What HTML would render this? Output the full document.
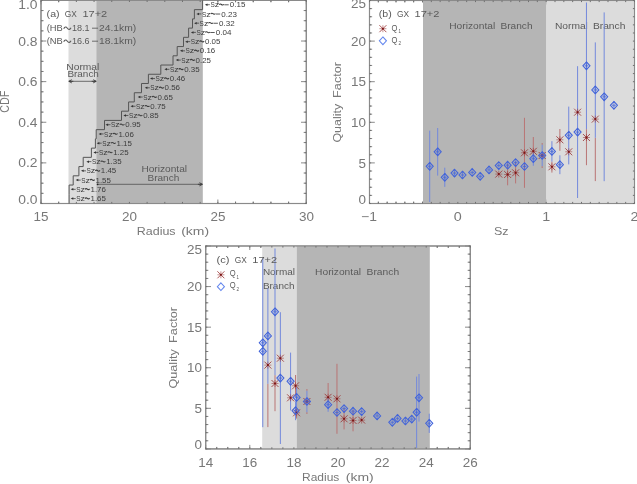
<!DOCTYPE html><html><head><meta charset="utf-8"><style>html,body{margin:0;padding:0;background:#fff;width:637px;height:484px;overflow:hidden}svg{display:block;will-change:transform;filter:blur(0.3px)}text{font-family:"Liberation Sans", sans-serif}</style></head><body>
<svg width="637" height="484" viewBox="0 0 637 484">
<defs>
<clipPath id="ca"><rect x="41" y="0.4" width="265.3" height="203.1"/></clipPath>
<clipPath id="cb"><rect x="369.5" y="0.5" width="265" height="203"/></clipPath>
<clipPath id="cc"><rect x="205.7" y="246" width="264.6" height="202.9"/></clipPath>
<marker id="ah" viewBox="0 0 6 6" refX="5.5" refY="3" markerWidth="4" markerHeight="4" orient="auto-start-reverse"><path d="M0 0.4L6 3L0 5.6Z" fill="#333"/></marker>
</defs>
<rect width="637" height="484" fill="#fff"/>
<rect x="41" y="0.4" width="265.3" height="203.1" fill="none" stroke="#8a8a8a" stroke-width="1.1"/>
<line x1="41" y1="203.5" x2="41" y2="199.5" stroke="#8a8a8a" stroke-width="1"/>
<line x1="41" y1="0.4" x2="41" y2="4.4" stroke="#8a8a8a" stroke-width="1"/>
<line x1="58.69" y1="203.5" x2="58.69" y2="201.5" stroke="#8a8a8a" stroke-width="1"/>
<line x1="58.69" y1="0.4" x2="58.69" y2="2.4" stroke="#8a8a8a" stroke-width="1"/>
<line x1="76.37" y1="203.5" x2="76.37" y2="201.5" stroke="#8a8a8a" stroke-width="1"/>
<line x1="76.37" y1="0.4" x2="76.37" y2="2.4" stroke="#8a8a8a" stroke-width="1"/>
<line x1="94.06" y1="203.5" x2="94.06" y2="201.5" stroke="#8a8a8a" stroke-width="1"/>
<line x1="94.06" y1="0.4" x2="94.06" y2="2.4" stroke="#8a8a8a" stroke-width="1"/>
<line x1="111.75" y1="203.5" x2="111.75" y2="201.5" stroke="#8a8a8a" stroke-width="1"/>
<line x1="111.75" y1="0.4" x2="111.75" y2="2.4" stroke="#8a8a8a" stroke-width="1"/>
<line x1="129.43" y1="203.5" x2="129.43" y2="199.5" stroke="#8a8a8a" stroke-width="1"/>
<line x1="129.43" y1="0.4" x2="129.43" y2="4.4" stroke="#8a8a8a" stroke-width="1"/>
<line x1="147.12" y1="203.5" x2="147.12" y2="201.5" stroke="#8a8a8a" stroke-width="1"/>
<line x1="147.12" y1="0.4" x2="147.12" y2="2.4" stroke="#8a8a8a" stroke-width="1"/>
<line x1="164.81" y1="203.5" x2="164.81" y2="201.5" stroke="#8a8a8a" stroke-width="1"/>
<line x1="164.81" y1="0.4" x2="164.81" y2="2.4" stroke="#8a8a8a" stroke-width="1"/>
<line x1="182.49" y1="203.5" x2="182.49" y2="201.5" stroke="#8a8a8a" stroke-width="1"/>
<line x1="182.49" y1="0.4" x2="182.49" y2="2.4" stroke="#8a8a8a" stroke-width="1"/>
<line x1="200.18" y1="203.5" x2="200.18" y2="201.5" stroke="#8a8a8a" stroke-width="1"/>
<line x1="200.18" y1="0.4" x2="200.18" y2="2.4" stroke="#8a8a8a" stroke-width="1"/>
<line x1="217.87" y1="203.5" x2="217.87" y2="199.5" stroke="#8a8a8a" stroke-width="1"/>
<line x1="217.87" y1="0.4" x2="217.87" y2="4.4" stroke="#8a8a8a" stroke-width="1"/>
<line x1="235.55" y1="203.5" x2="235.55" y2="201.5" stroke="#8a8a8a" stroke-width="1"/>
<line x1="235.55" y1="0.4" x2="235.55" y2="2.4" stroke="#8a8a8a" stroke-width="1"/>
<line x1="253.24" y1="203.5" x2="253.24" y2="201.5" stroke="#8a8a8a" stroke-width="1"/>
<line x1="253.24" y1="0.4" x2="253.24" y2="2.4" stroke="#8a8a8a" stroke-width="1"/>
<line x1="270.93" y1="203.5" x2="270.93" y2="201.5" stroke="#8a8a8a" stroke-width="1"/>
<line x1="270.93" y1="0.4" x2="270.93" y2="2.4" stroke="#8a8a8a" stroke-width="1"/>
<line x1="288.61" y1="203.5" x2="288.61" y2="201.5" stroke="#8a8a8a" stroke-width="1"/>
<line x1="288.61" y1="0.4" x2="288.61" y2="2.4" stroke="#8a8a8a" stroke-width="1"/>
<line x1="306.3" y1="203.5" x2="306.3" y2="199.5" stroke="#8a8a8a" stroke-width="1"/>
<line x1="306.3" y1="0.4" x2="306.3" y2="4.4" stroke="#8a8a8a" stroke-width="1"/>
<line x1="41" y1="203.5" x2="46.3" y2="203.5" stroke="#8a8a8a" stroke-width="1"/>
<line x1="306.3" y1="203.5" x2="301" y2="203.5" stroke="#8a8a8a" stroke-width="1"/>
<line x1="41" y1="193.34" x2="43.65" y2="193.34" stroke="#8a8a8a" stroke-width="1"/>
<line x1="306.3" y1="193.34" x2="303.65" y2="193.34" stroke="#8a8a8a" stroke-width="1"/>
<line x1="41" y1="183.19" x2="43.65" y2="183.19" stroke="#8a8a8a" stroke-width="1"/>
<line x1="306.3" y1="183.19" x2="303.65" y2="183.19" stroke="#8a8a8a" stroke-width="1"/>
<line x1="41" y1="173.03" x2="43.65" y2="173.03" stroke="#8a8a8a" stroke-width="1"/>
<line x1="306.3" y1="173.03" x2="303.65" y2="173.03" stroke="#8a8a8a" stroke-width="1"/>
<line x1="41" y1="162.88" x2="46.3" y2="162.88" stroke="#8a8a8a" stroke-width="1"/>
<line x1="306.3" y1="162.88" x2="301" y2="162.88" stroke="#8a8a8a" stroke-width="1"/>
<line x1="41" y1="152.72" x2="43.65" y2="152.72" stroke="#8a8a8a" stroke-width="1"/>
<line x1="306.3" y1="152.72" x2="303.65" y2="152.72" stroke="#8a8a8a" stroke-width="1"/>
<line x1="41" y1="142.57" x2="43.65" y2="142.57" stroke="#8a8a8a" stroke-width="1"/>
<line x1="306.3" y1="142.57" x2="303.65" y2="142.57" stroke="#8a8a8a" stroke-width="1"/>
<line x1="41" y1="132.42" x2="43.65" y2="132.42" stroke="#8a8a8a" stroke-width="1"/>
<line x1="306.3" y1="132.42" x2="303.65" y2="132.42" stroke="#8a8a8a" stroke-width="1"/>
<line x1="41" y1="122.26" x2="46.3" y2="122.26" stroke="#8a8a8a" stroke-width="1"/>
<line x1="306.3" y1="122.26" x2="301" y2="122.26" stroke="#8a8a8a" stroke-width="1"/>
<line x1="41" y1="112.11" x2="43.65" y2="112.11" stroke="#8a8a8a" stroke-width="1"/>
<line x1="306.3" y1="112.11" x2="303.65" y2="112.11" stroke="#8a8a8a" stroke-width="1"/>
<line x1="41" y1="101.95" x2="43.65" y2="101.95" stroke="#8a8a8a" stroke-width="1"/>
<line x1="306.3" y1="101.95" x2="303.65" y2="101.95" stroke="#8a8a8a" stroke-width="1"/>
<line x1="41" y1="91.8" x2="43.65" y2="91.8" stroke="#8a8a8a" stroke-width="1"/>
<line x1="306.3" y1="91.8" x2="303.65" y2="91.8" stroke="#8a8a8a" stroke-width="1"/>
<line x1="41" y1="81.64" x2="46.3" y2="81.64" stroke="#8a8a8a" stroke-width="1"/>
<line x1="306.3" y1="81.64" x2="301" y2="81.64" stroke="#8a8a8a" stroke-width="1"/>
<line x1="41" y1="71.48" x2="43.65" y2="71.48" stroke="#8a8a8a" stroke-width="1"/>
<line x1="306.3" y1="71.48" x2="303.65" y2="71.48" stroke="#8a8a8a" stroke-width="1"/>
<line x1="41" y1="61.33" x2="43.65" y2="61.33" stroke="#8a8a8a" stroke-width="1"/>
<line x1="306.3" y1="61.33" x2="303.65" y2="61.33" stroke="#8a8a8a" stroke-width="1"/>
<line x1="41" y1="51.17" x2="43.65" y2="51.17" stroke="#8a8a8a" stroke-width="1"/>
<line x1="306.3" y1="51.17" x2="303.65" y2="51.17" stroke="#8a8a8a" stroke-width="1"/>
<line x1="41" y1="41.02" x2="46.3" y2="41.02" stroke="#8a8a8a" stroke-width="1"/>
<line x1="306.3" y1="41.02" x2="301" y2="41.02" stroke="#8a8a8a" stroke-width="1"/>
<line x1="41" y1="30.86" x2="43.65" y2="30.86" stroke="#8a8a8a" stroke-width="1"/>
<line x1="306.3" y1="30.86" x2="303.65" y2="30.86" stroke="#8a8a8a" stroke-width="1"/>
<line x1="41" y1="20.71" x2="43.65" y2="20.71" stroke="#8a8a8a" stroke-width="1"/>
<line x1="306.3" y1="20.71" x2="303.65" y2="20.71" stroke="#8a8a8a" stroke-width="1"/>
<line x1="41" y1="10.55" x2="43.65" y2="10.55" stroke="#8a8a8a" stroke-width="1"/>
<line x1="306.3" y1="10.55" x2="303.65" y2="10.55" stroke="#8a8a8a" stroke-width="1"/>
<line x1="41" y1="0.4" x2="46.3" y2="0.4" stroke="#8a8a8a" stroke-width="1"/>
<line x1="306.3" y1="0.4" x2="301" y2="0.4" stroke="#8a8a8a" stroke-width="1"/>
<rect x="68.5" y="0.4" width="27.8" height="203.1" fill="#dcdcdc"/>
<rect x="96.3" y="0.4" width="106.5" height="203.1" fill="#b5b5b5"/>
<rect x="41" y="0.4" width="265.3" height="203.1" fill="none" stroke="#8a8a8a" stroke-width="1.1"/>
<line x1="41" y1="203.5" x2="41" y2="201.9" stroke="#707070" stroke-width="1"/>
<line x1="41" y1="0.4" x2="41" y2="2" stroke="#707070" stroke-width="1"/>
<line x1="58.69" y1="203.5" x2="58.69" y2="201.9" stroke="#707070" stroke-width="1"/>
<line x1="58.69" y1="0.4" x2="58.69" y2="2" stroke="#707070" stroke-width="1"/>
<line x1="76.37" y1="203.5" x2="76.37" y2="201.9" stroke="#707070" stroke-width="1"/>
<line x1="76.37" y1="0.4" x2="76.37" y2="2" stroke="#707070" stroke-width="1"/>
<line x1="94.06" y1="203.5" x2="94.06" y2="201.9" stroke="#707070" stroke-width="1"/>
<line x1="94.06" y1="0.4" x2="94.06" y2="2" stroke="#707070" stroke-width="1"/>
<line x1="111.75" y1="203.5" x2="111.75" y2="201.9" stroke="#707070" stroke-width="1"/>
<line x1="111.75" y1="0.4" x2="111.75" y2="2" stroke="#707070" stroke-width="1"/>
<line x1="129.43" y1="203.5" x2="129.43" y2="201.9" stroke="#707070" stroke-width="1"/>
<line x1="129.43" y1="0.4" x2="129.43" y2="2" stroke="#707070" stroke-width="1"/>
<line x1="147.12" y1="203.5" x2="147.12" y2="201.9" stroke="#707070" stroke-width="1"/>
<line x1="147.12" y1="0.4" x2="147.12" y2="2" stroke="#707070" stroke-width="1"/>
<line x1="164.81" y1="203.5" x2="164.81" y2="201.9" stroke="#707070" stroke-width="1"/>
<line x1="164.81" y1="0.4" x2="164.81" y2="2" stroke="#707070" stroke-width="1"/>
<line x1="182.49" y1="203.5" x2="182.49" y2="201.9" stroke="#707070" stroke-width="1"/>
<line x1="182.49" y1="0.4" x2="182.49" y2="2" stroke="#707070" stroke-width="1"/>
<line x1="200.18" y1="203.5" x2="200.18" y2="201.9" stroke="#707070" stroke-width="1"/>
<line x1="200.18" y1="0.4" x2="200.18" y2="2" stroke="#707070" stroke-width="1"/>
<line x1="217.87" y1="203.5" x2="217.87" y2="201.9" stroke="#707070" stroke-width="1"/>
<line x1="217.87" y1="0.4" x2="217.87" y2="2" stroke="#707070" stroke-width="1"/>
<line x1="235.55" y1="203.5" x2="235.55" y2="201.9" stroke="#707070" stroke-width="1"/>
<line x1="235.55" y1="0.4" x2="235.55" y2="2" stroke="#707070" stroke-width="1"/>
<line x1="253.24" y1="203.5" x2="253.24" y2="201.9" stroke="#707070" stroke-width="1"/>
<line x1="253.24" y1="0.4" x2="253.24" y2="2" stroke="#707070" stroke-width="1"/>
<line x1="270.93" y1="203.5" x2="270.93" y2="201.9" stroke="#707070" stroke-width="1"/>
<line x1="270.93" y1="0.4" x2="270.93" y2="2" stroke="#707070" stroke-width="1"/>
<line x1="288.61" y1="203.5" x2="288.61" y2="201.9" stroke="#707070" stroke-width="1"/>
<line x1="288.61" y1="0.4" x2="288.61" y2="2" stroke="#707070" stroke-width="1"/>
<line x1="306.3" y1="203.5" x2="306.3" y2="201.9" stroke="#707070" stroke-width="1"/>
<line x1="306.3" y1="0.4" x2="306.3" y2="2" stroke="#707070" stroke-width="1"/>
<line x1="41" y1="203.5" x2="42.6" y2="203.5" stroke="#707070" stroke-width="1"/>
<line x1="306.3" y1="203.5" x2="304.7" y2="203.5" stroke="#707070" stroke-width="1"/>
<line x1="41" y1="193.34" x2="42.6" y2="193.34" stroke="#707070" stroke-width="1"/>
<line x1="306.3" y1="193.34" x2="304.7" y2="193.34" stroke="#707070" stroke-width="1"/>
<line x1="41" y1="183.19" x2="42.6" y2="183.19" stroke="#707070" stroke-width="1"/>
<line x1="306.3" y1="183.19" x2="304.7" y2="183.19" stroke="#707070" stroke-width="1"/>
<line x1="41" y1="173.03" x2="42.6" y2="173.03" stroke="#707070" stroke-width="1"/>
<line x1="306.3" y1="173.03" x2="304.7" y2="173.03" stroke="#707070" stroke-width="1"/>
<line x1="41" y1="162.88" x2="42.6" y2="162.88" stroke="#707070" stroke-width="1"/>
<line x1="306.3" y1="162.88" x2="304.7" y2="162.88" stroke="#707070" stroke-width="1"/>
<line x1="41" y1="152.72" x2="42.6" y2="152.72" stroke="#707070" stroke-width="1"/>
<line x1="306.3" y1="152.72" x2="304.7" y2="152.72" stroke="#707070" stroke-width="1"/>
<line x1="41" y1="142.57" x2="42.6" y2="142.57" stroke="#707070" stroke-width="1"/>
<line x1="306.3" y1="142.57" x2="304.7" y2="142.57" stroke="#707070" stroke-width="1"/>
<line x1="41" y1="132.42" x2="42.6" y2="132.42" stroke="#707070" stroke-width="1"/>
<line x1="306.3" y1="132.42" x2="304.7" y2="132.42" stroke="#707070" stroke-width="1"/>
<line x1="41" y1="122.26" x2="42.6" y2="122.26" stroke="#707070" stroke-width="1"/>
<line x1="306.3" y1="122.26" x2="304.7" y2="122.26" stroke="#707070" stroke-width="1"/>
<line x1="41" y1="112.11" x2="42.6" y2="112.11" stroke="#707070" stroke-width="1"/>
<line x1="306.3" y1="112.11" x2="304.7" y2="112.11" stroke="#707070" stroke-width="1"/>
<line x1="41" y1="101.95" x2="42.6" y2="101.95" stroke="#707070" stroke-width="1"/>
<line x1="306.3" y1="101.95" x2="304.7" y2="101.95" stroke="#707070" stroke-width="1"/>
<line x1="41" y1="91.8" x2="42.6" y2="91.8" stroke="#707070" stroke-width="1"/>
<line x1="306.3" y1="91.8" x2="304.7" y2="91.8" stroke="#707070" stroke-width="1"/>
<line x1="41" y1="81.64" x2="42.6" y2="81.64" stroke="#707070" stroke-width="1"/>
<line x1="306.3" y1="81.64" x2="304.7" y2="81.64" stroke="#707070" stroke-width="1"/>
<line x1="41" y1="71.48" x2="42.6" y2="71.48" stroke="#707070" stroke-width="1"/>
<line x1="306.3" y1="71.48" x2="304.7" y2="71.48" stroke="#707070" stroke-width="1"/>
<line x1="41" y1="61.33" x2="42.6" y2="61.33" stroke="#707070" stroke-width="1"/>
<line x1="306.3" y1="61.33" x2="304.7" y2="61.33" stroke="#707070" stroke-width="1"/>
<line x1="41" y1="51.17" x2="42.6" y2="51.17" stroke="#707070" stroke-width="1"/>
<line x1="306.3" y1="51.17" x2="304.7" y2="51.17" stroke="#707070" stroke-width="1"/>
<line x1="41" y1="41.02" x2="42.6" y2="41.02" stroke="#707070" stroke-width="1"/>
<line x1="306.3" y1="41.02" x2="304.7" y2="41.02" stroke="#707070" stroke-width="1"/>
<line x1="41" y1="30.86" x2="42.6" y2="30.86" stroke="#707070" stroke-width="1"/>
<line x1="306.3" y1="30.86" x2="304.7" y2="30.86" stroke="#707070" stroke-width="1"/>
<line x1="41" y1="20.71" x2="42.6" y2="20.71" stroke="#707070" stroke-width="1"/>
<line x1="306.3" y1="20.71" x2="304.7" y2="20.71" stroke="#707070" stroke-width="1"/>
<line x1="41" y1="10.55" x2="42.6" y2="10.55" stroke="#707070" stroke-width="1"/>
<line x1="306.3" y1="10.55" x2="304.7" y2="10.55" stroke="#707070" stroke-width="1"/>
<line x1="41" y1="0.4" x2="42.6" y2="0.4" stroke="#707070" stroke-width="1"/>
<line x1="306.3" y1="0.4" x2="304.7" y2="0.4" stroke="#707070" stroke-width="1"/>
<path d="M69.1 203.5L69.1 194.27L69.1 194.27L69.1 185.04L73.2 185.04L73.2 175.8L78.9 175.8L78.9 166.57L83.2 166.57L83.2 157.34L91.4 157.34L91.4 148.11L95.4 148.11L95.4 138.88L96.2 138.88L96.2 129.65L104.5 129.65L104.5 120.41L121.5 120.41L121.5 111.18L128.6 111.18L128.6 101.95L134.3 101.95L134.3 92.72L141.5 92.72L141.5 83.49L148.4 83.49L148.4 74.25L160.8 74.25L160.8 65.02L173 65.02L173 55.79L177.2 55.79L177.2 46.56L183.5 46.56L183.5 37.33L188.6 37.33L188.6 28.1L192.5 28.1L192.5 18.86L194.4 18.86L194.4 9.63L202.6 9.63L202.6 0.4" fill="none" stroke="#555" stroke-width="1.0"/>
<line x1="206.9" y1="4.7" x2="209.9" y2="4.7" stroke="#333" stroke-width="0.7"/>
<path d="M204.9 4.7l2.6 -1.25v2.5Z" fill="#333"/>
<text x="210.4" y="7.3" font-size="7.6" fill="#3c3c3c" text-anchor="start" textLength="4.3" lengthAdjust="spacingAndGlyphs">S</text>
<text x="214.7" y="7.3" font-size="7.6" fill="#3c3c3c" text-anchor="start" textLength="4.4" lengthAdjust="spacingAndGlyphs">z</text>
<path d="M219.2 4.74C219.89 3.78 220.81 3.78 221.5 4.5C222.19 5.22 223.11 5.22 223.8 4.26" fill="none" stroke="#3c3c3c" stroke-width="1.1"/>
<line x1="224.3" y1="4.8" x2="228.7" y2="4.8" stroke="#3c3c3c" stroke-width="0.85"/>
<text x="229.8" y="7.3" font-size="7.5" fill="#3c3c3c" text-anchor="start" textLength="15.6" lengthAdjust="spacingAndGlyphs">0.15</text>
<line x1="198.4" y1="13.93" x2="201.4" y2="13.93" stroke="#333" stroke-width="0.7"/>
<path d="M196.4 13.93l2.6 -1.25v2.5Z" fill="#333"/>
<text x="201.9" y="16.53" font-size="7.6" fill="#3c3c3c" text-anchor="start" textLength="4.3" lengthAdjust="spacingAndGlyphs">S</text>
<text x="206.2" y="16.53" font-size="7.6" fill="#3c3c3c" text-anchor="start" textLength="4.4" lengthAdjust="spacingAndGlyphs">z</text>
<path d="M210.7 13.97C211.39 13.01 212.31 13.01 213 13.73C213.69 14.45 214.61 14.45 215.3 13.49" fill="none" stroke="#3c3c3c" stroke-width="1.1"/>
<line x1="215.8" y1="14.03" x2="220.2" y2="14.03" stroke="#3c3c3c" stroke-width="0.85"/>
<text x="221.3" y="16.53" font-size="7.5" fill="#3c3c3c" text-anchor="start" textLength="15.6" lengthAdjust="spacingAndGlyphs">0.23</text>
<line x1="196.1" y1="23.16" x2="199.1" y2="23.16" stroke="#333" stroke-width="0.7"/>
<path d="M194.1 23.16l2.6 -1.25v2.5Z" fill="#333"/>
<text x="199.6" y="25.76" font-size="7.6" fill="#3c3c3c" text-anchor="start" textLength="4.3" lengthAdjust="spacingAndGlyphs">S</text>
<text x="203.9" y="25.76" font-size="7.6" fill="#3c3c3c" text-anchor="start" textLength="4.4" lengthAdjust="spacingAndGlyphs">z</text>
<path d="M208.4 23.2C209.09 22.24 210.01 22.24 210.7 22.96C211.39 23.68 212.31 23.68 213 22.72" fill="none" stroke="#3c3c3c" stroke-width="1.1"/>
<line x1="213.5" y1="23.26" x2="217.9" y2="23.26" stroke="#3c3c3c" stroke-width="0.85"/>
<text x="219" y="25.76" font-size="7.5" fill="#3c3c3c" text-anchor="start" textLength="15.6" lengthAdjust="spacingAndGlyphs">0.32</text>
<line x1="192.9" y1="32.4" x2="195.9" y2="32.4" stroke="#333" stroke-width="0.7"/>
<path d="M190.9 32.4l2.6 -1.25v2.5Z" fill="#333"/>
<text x="196.4" y="35" font-size="7.6" fill="#3c3c3c" text-anchor="start" textLength="4.3" lengthAdjust="spacingAndGlyphs">S</text>
<text x="200.7" y="35" font-size="7.6" fill="#3c3c3c" text-anchor="start" textLength="4.4" lengthAdjust="spacingAndGlyphs">z</text>
<path d="M205.2 32.44C205.89 31.48 206.81 31.48 207.5 32.2C208.19 32.92 209.11 32.92 209.8 31.96" fill="none" stroke="#3c3c3c" stroke-width="1.1"/>
<line x1="210.3" y1="32.5" x2="214.7" y2="32.5" stroke="#3c3c3c" stroke-width="0.85"/>
<text x="215.8" y="35" font-size="7.5" fill="#3c3c3c" text-anchor="start" textLength="15.6" lengthAdjust="spacingAndGlyphs">0.04</text>
<line x1="187.2" y1="41.63" x2="190.2" y2="41.63" stroke="#333" stroke-width="0.7"/>
<path d="M185.2 41.63l2.6 -1.25v2.5Z" fill="#333"/>
<text x="190.7" y="44.23" font-size="7.6" fill="#3c3c3c" text-anchor="start" textLength="4.3" lengthAdjust="spacingAndGlyphs">S</text>
<text x="195" y="44.23" font-size="7.6" fill="#3c3c3c" text-anchor="start" textLength="4.4" lengthAdjust="spacingAndGlyphs">z</text>
<path d="M199.5 41.67C200.19 40.71 201.11 40.71 201.8 41.43C202.49 42.15 203.41 42.15 204.1 41.19" fill="none" stroke="#3c3c3c" stroke-width="1.1"/>
<text x="205" y="44.23" font-size="7.5" fill="#3c3c3c" text-anchor="start" textLength="15.4" lengthAdjust="spacingAndGlyphs">0.05</text>
<line x1="182" y1="50.86" x2="185" y2="50.86" stroke="#333" stroke-width="0.7"/>
<path d="M180 50.86l2.6 -1.25v2.5Z" fill="#333"/>
<text x="185.5" y="53.46" font-size="7.6" fill="#3c3c3c" text-anchor="start" textLength="4.3" lengthAdjust="spacingAndGlyphs">S</text>
<text x="189.8" y="53.46" font-size="7.6" fill="#3c3c3c" text-anchor="start" textLength="4.4" lengthAdjust="spacingAndGlyphs">z</text>
<path d="M194.3 50.9C194.99 49.94 195.91 49.94 196.6 50.66C197.29 51.38 198.21 51.38 198.9 50.42" fill="none" stroke="#3c3c3c" stroke-width="1.1"/>
<text x="199.8" y="53.46" font-size="7.5" fill="#3c3c3c" text-anchor="start" textLength="15.4" lengthAdjust="spacingAndGlyphs">0.16</text>
<line x1="177.8" y1="60.09" x2="180.8" y2="60.09" stroke="#333" stroke-width="0.7"/>
<path d="M175.8 60.09l2.6 -1.25v2.5Z" fill="#333"/>
<text x="181.3" y="62.69" font-size="7.6" fill="#3c3c3c" text-anchor="start" textLength="4.3" lengthAdjust="spacingAndGlyphs">S</text>
<text x="185.6" y="62.69" font-size="7.6" fill="#3c3c3c" text-anchor="start" textLength="4.4" lengthAdjust="spacingAndGlyphs">z</text>
<path d="M190.1 60.13C190.79 59.17 191.71 59.17 192.4 59.89C193.09 60.61 194.01 60.61 194.7 59.65" fill="none" stroke="#3c3c3c" stroke-width="1.1"/>
<text x="195.6" y="62.69" font-size="7.5" fill="#3c3c3c" text-anchor="start" textLength="15.4" lengthAdjust="spacingAndGlyphs">0.25</text>
<line x1="166.4" y1="69.32" x2="169.4" y2="69.32" stroke="#333" stroke-width="0.7"/>
<path d="M164.4 69.32l2.6 -1.25v2.5Z" fill="#333"/>
<text x="169.9" y="71.92" font-size="7.6" fill="#3c3c3c" text-anchor="start" textLength="4.3" lengthAdjust="spacingAndGlyphs">S</text>
<text x="174.2" y="71.92" font-size="7.6" fill="#3c3c3c" text-anchor="start" textLength="4.4" lengthAdjust="spacingAndGlyphs">z</text>
<path d="M178.7 69.36C179.39 68.4 180.31 68.4 181 69.12C181.69 69.84 182.61 69.84 183.3 68.88" fill="none" stroke="#3c3c3c" stroke-width="1.1"/>
<text x="184.2" y="71.92" font-size="7.5" fill="#3c3c3c" text-anchor="start" textLength="15.4" lengthAdjust="spacingAndGlyphs">0.35</text>
<line x1="152" y1="78.55" x2="155" y2="78.55" stroke="#333" stroke-width="0.7"/>
<path d="M150 78.55l2.6 -1.25v2.5Z" fill="#333"/>
<text x="155.5" y="81.15" font-size="7.6" fill="#3c3c3c" text-anchor="start" textLength="4.3" lengthAdjust="spacingAndGlyphs">S</text>
<text x="159.8" y="81.15" font-size="7.6" fill="#3c3c3c" text-anchor="start" textLength="4.4" lengthAdjust="spacingAndGlyphs">z</text>
<path d="M164.3 78.59C164.99 77.63 165.91 77.63 166.6 78.35C167.29 79.07 168.21 79.07 168.9 78.11" fill="none" stroke="#3c3c3c" stroke-width="1.1"/>
<text x="169.8" y="81.15" font-size="7.5" fill="#3c3c3c" text-anchor="start" textLength="15.4" lengthAdjust="spacingAndGlyphs">0.46</text>
<line x1="146.8" y1="87.79" x2="149.8" y2="87.79" stroke="#333" stroke-width="0.7"/>
<path d="M144.8 87.79l2.6 -1.25v2.5Z" fill="#333"/>
<text x="150.3" y="90.39" font-size="7.6" fill="#3c3c3c" text-anchor="start" textLength="4.3" lengthAdjust="spacingAndGlyphs">S</text>
<text x="154.6" y="90.39" font-size="7.6" fill="#3c3c3c" text-anchor="start" textLength="4.4" lengthAdjust="spacingAndGlyphs">z</text>
<path d="M159.1 87.83C159.79 86.87 160.71 86.87 161.4 87.59C162.09 88.31 163.01 88.31 163.7 87.35" fill="none" stroke="#3c3c3c" stroke-width="1.1"/>
<text x="164.6" y="90.39" font-size="7.5" fill="#3c3c3c" text-anchor="start" textLength="15.4" lengthAdjust="spacingAndGlyphs">0.56</text>
<line x1="139.7" y1="97.02" x2="142.7" y2="97.02" stroke="#333" stroke-width="0.7"/>
<path d="M137.7 97.02l2.6 -1.25v2.5Z" fill="#333"/>
<text x="143.2" y="99.62" font-size="7.6" fill="#3c3c3c" text-anchor="start" textLength="4.3" lengthAdjust="spacingAndGlyphs">S</text>
<text x="147.5" y="99.62" font-size="7.6" fill="#3c3c3c" text-anchor="start" textLength="4.4" lengthAdjust="spacingAndGlyphs">z</text>
<path d="M152 97.06C152.69 96.1 153.61 96.1 154.3 96.82C154.99 97.54 155.91 97.54 156.6 96.58" fill="none" stroke="#3c3c3c" stroke-width="1.1"/>
<text x="157.5" y="99.62" font-size="7.5" fill="#3c3c3c" text-anchor="start" textLength="15.4" lengthAdjust="spacingAndGlyphs">0.65</text>
<line x1="132.5" y1="106.25" x2="135.5" y2="106.25" stroke="#333" stroke-width="0.7"/>
<path d="M130.5 106.25l2.6 -1.25v2.5Z" fill="#333"/>
<text x="136" y="108.85" font-size="7.6" fill="#3c3c3c" text-anchor="start" textLength="4.3" lengthAdjust="spacingAndGlyphs">S</text>
<text x="140.3" y="108.85" font-size="7.6" fill="#3c3c3c" text-anchor="start" textLength="4.4" lengthAdjust="spacingAndGlyphs">z</text>
<path d="M144.8 106.29C145.49 105.33 146.41 105.33 147.1 106.05C147.79 106.77 148.71 106.77 149.4 105.81" fill="none" stroke="#3c3c3c" stroke-width="1.1"/>
<text x="150.3" y="108.85" font-size="7.5" fill="#3c3c3c" text-anchor="start" textLength="15.4" lengthAdjust="spacingAndGlyphs">0.75</text>
<line x1="125.4" y1="115.48" x2="128.4" y2="115.48" stroke="#333" stroke-width="0.7"/>
<path d="M123.4 115.48l2.6 -1.25v2.5Z" fill="#333"/>
<text x="128.9" y="118.08" font-size="7.6" fill="#3c3c3c" text-anchor="start" textLength="4.3" lengthAdjust="spacingAndGlyphs">S</text>
<text x="133.2" y="118.08" font-size="7.6" fill="#3c3c3c" text-anchor="start" textLength="4.4" lengthAdjust="spacingAndGlyphs">z</text>
<path d="M137.7 115.52C138.39 114.56 139.31 114.56 140 115.28C140.69 116 141.61 116 142.3 115.04" fill="none" stroke="#3c3c3c" stroke-width="1.1"/>
<text x="143.2" y="118.08" font-size="7.5" fill="#3c3c3c" text-anchor="start" textLength="15.4" lengthAdjust="spacingAndGlyphs">0.85</text>
<line x1="107.5" y1="124.71" x2="110.5" y2="124.71" stroke="#333" stroke-width="0.7"/>
<path d="M105.5 124.71l2.6 -1.25v2.5Z" fill="#333"/>
<text x="111" y="127.31" font-size="7.6" fill="#3c3c3c" text-anchor="start" textLength="4.3" lengthAdjust="spacingAndGlyphs">S</text>
<text x="115.3" y="127.31" font-size="7.6" fill="#3c3c3c" text-anchor="start" textLength="4.4" lengthAdjust="spacingAndGlyphs">z</text>
<path d="M119.8 124.75C120.49 123.79 121.41 123.79 122.1 124.51C122.79 125.23 123.71 125.23 124.4 124.27" fill="none" stroke="#3c3c3c" stroke-width="1.1"/>
<text x="125.3" y="127.31" font-size="7.5" fill="#3c3c3c" text-anchor="start" textLength="15.4" lengthAdjust="spacingAndGlyphs">0.95</text>
<line x1="100.6" y1="133.95" x2="103.6" y2="133.95" stroke="#333" stroke-width="0.7"/>
<path d="M98.6 133.95l2.6 -1.25v2.5Z" fill="#333"/>
<text x="104.1" y="136.55" font-size="7.6" fill="#3c3c3c" text-anchor="start" textLength="4.3" lengthAdjust="spacingAndGlyphs">S</text>
<text x="108.4" y="136.55" font-size="7.6" fill="#3c3c3c" text-anchor="start" textLength="4.4" lengthAdjust="spacingAndGlyphs">z</text>
<path d="M112.9 133.99C113.59 133.03 114.51 133.03 115.2 133.75C115.89 134.47 116.81 134.47 117.5 133.51" fill="none" stroke="#3c3c3c" stroke-width="1.1"/>
<text x="118.4" y="136.55" font-size="7.5" fill="#3c3c3c" text-anchor="start" textLength="15.4" lengthAdjust="spacingAndGlyphs">1.06</text>
<line x1="98.7" y1="143.18" x2="101.7" y2="143.18" stroke="#333" stroke-width="0.7"/>
<path d="M96.7 143.18l2.6 -1.25v2.5Z" fill="#333"/>
<text x="102.2" y="145.78" font-size="7.6" fill="#3c3c3c" text-anchor="start" textLength="4.3" lengthAdjust="spacingAndGlyphs">S</text>
<text x="106.5" y="145.78" font-size="7.6" fill="#3c3c3c" text-anchor="start" textLength="4.4" lengthAdjust="spacingAndGlyphs">z</text>
<path d="M111 143.22C111.69 142.26 112.61 142.26 113.3 142.98C113.99 143.7 114.91 143.7 115.6 142.74" fill="none" stroke="#3c3c3c" stroke-width="1.1"/>
<text x="116.5" y="145.78" font-size="7.5" fill="#3c3c3c" text-anchor="start" textLength="15.4" lengthAdjust="spacingAndGlyphs">1.15</text>
<line x1="95.4" y1="152.41" x2="98.4" y2="152.41" stroke="#333" stroke-width="0.7"/>
<path d="M93.4 152.41l2.6 -1.25v2.5Z" fill="#333"/>
<text x="98.9" y="155.01" font-size="7.6" fill="#3c3c3c" text-anchor="start" textLength="4.3" lengthAdjust="spacingAndGlyphs">S</text>
<text x="103.2" y="155.01" font-size="7.6" fill="#3c3c3c" text-anchor="start" textLength="4.4" lengthAdjust="spacingAndGlyphs">z</text>
<path d="M107.7 152.45C108.39 151.49 109.31 151.49 110 152.21C110.69 152.93 111.61 152.93 112.3 151.97" fill="none" stroke="#3c3c3c" stroke-width="1.1"/>
<text x="113.2" y="155.01" font-size="7.5" fill="#3c3c3c" text-anchor="start" textLength="15.4" lengthAdjust="spacingAndGlyphs">1.25</text>
<line x1="88.4" y1="161.64" x2="91.4" y2="161.64" stroke="#333" stroke-width="0.7"/>
<path d="M86.4 161.64l2.6 -1.25v2.5Z" fill="#333"/>
<text x="91.9" y="164.24" font-size="7.6" fill="#3c3c3c" text-anchor="start" textLength="4.3" lengthAdjust="spacingAndGlyphs">S</text>
<text x="96.2" y="164.24" font-size="7.6" fill="#3c3c3c" text-anchor="start" textLength="4.4" lengthAdjust="spacingAndGlyphs">z</text>
<path d="M100.7 161.68C101.39 160.72 102.31 160.72 103 161.44C103.69 162.16 104.61 162.16 105.3 161.2" fill="none" stroke="#3c3c3c" stroke-width="1.1"/>
<text x="106.2" y="164.24" font-size="7.5" fill="#3c3c3c" text-anchor="start" textLength="15.4" lengthAdjust="spacingAndGlyphs">1.35</text>
<line x1="83" y1="170.87" x2="86" y2="170.87" stroke="#333" stroke-width="0.7"/>
<path d="M81 170.87l2.6 -1.25v2.5Z" fill="#333"/>
<text x="86.5" y="173.47" font-size="7.6" fill="#3c3c3c" text-anchor="start" textLength="4.3" lengthAdjust="spacingAndGlyphs">S</text>
<text x="90.8" y="173.47" font-size="7.6" fill="#3c3c3c" text-anchor="start" textLength="4.4" lengthAdjust="spacingAndGlyphs">z</text>
<path d="M95.3 170.91C95.99 169.95 96.91 169.95 97.6 170.67C98.29 171.39 99.21 171.39 99.9 170.43" fill="none" stroke="#3c3c3c" stroke-width="1.1"/>
<text x="100.8" y="173.47" font-size="7.5" fill="#3c3c3c" text-anchor="start" textLength="15.4" lengthAdjust="spacingAndGlyphs">1.45</text>
<line x1="77.7" y1="180.1" x2="80.7" y2="180.1" stroke="#333" stroke-width="0.7"/>
<path d="M75.7 180.1l2.6 -1.25v2.5Z" fill="#333"/>
<text x="81.2" y="182.7" font-size="7.6" fill="#3c3c3c" text-anchor="start" textLength="4.3" lengthAdjust="spacingAndGlyphs">S</text>
<text x="85.5" y="182.7" font-size="7.6" fill="#3c3c3c" text-anchor="start" textLength="4.4" lengthAdjust="spacingAndGlyphs">z</text>
<path d="M90 180.14C90.69 179.18 91.61 179.18 92.3 179.9C92.99 180.62 93.91 180.62 94.6 179.66" fill="none" stroke="#3c3c3c" stroke-width="1.1"/>
<text x="95.5" y="182.7" font-size="7.5" fill="#3c3c3c" text-anchor="start" textLength="15.4" lengthAdjust="spacingAndGlyphs">1.55</text>
<line x1="72.7" y1="189.34" x2="75.7" y2="189.34" stroke="#333" stroke-width="0.7"/>
<path d="M70.7 189.34l2.6 -1.25v2.5Z" fill="#333"/>
<text x="76.2" y="191.94" font-size="7.6" fill="#3c3c3c" text-anchor="start" textLength="4.3" lengthAdjust="spacingAndGlyphs">S</text>
<text x="80.5" y="191.94" font-size="7.6" fill="#3c3c3c" text-anchor="start" textLength="4.4" lengthAdjust="spacingAndGlyphs">z</text>
<path d="M85 189.38C85.69 188.42 86.61 188.42 87.3 189.14C87.99 189.86 88.91 189.86 89.6 188.9" fill="none" stroke="#3c3c3c" stroke-width="1.1"/>
<text x="90.5" y="191.94" font-size="7.5" fill="#3c3c3c" text-anchor="start" textLength="15.4" lengthAdjust="spacingAndGlyphs">1.76</text>
<line x1="72.7" y1="198.57" x2="75.7" y2="198.57" stroke="#333" stroke-width="0.7"/>
<path d="M70.7 198.57l2.6 -1.25v2.5Z" fill="#333"/>
<text x="76.2" y="201.17" font-size="7.6" fill="#3c3c3c" text-anchor="start" textLength="4.3" lengthAdjust="spacingAndGlyphs">S</text>
<text x="80.5" y="201.17" font-size="7.6" fill="#3c3c3c" text-anchor="start" textLength="4.4" lengthAdjust="spacingAndGlyphs">z</text>
<path d="M85 198.61C85.69 197.65 86.61 197.65 87.3 198.37C87.99 199.09 88.91 199.09 89.6 198.13" fill="none" stroke="#3c3c3c" stroke-width="1.1"/>
<text x="90.5" y="201.17" font-size="7.5" fill="#3c3c3c" text-anchor="start" textLength="15.4" lengthAdjust="spacingAndGlyphs">1.65</text>
<text x="46.6" y="16.8" font-size="8.8" fill="#5a5a5a" text-anchor="start" textLength="13" lengthAdjust="spacingAndGlyphs">(a)</text>
<text x="64.8" y="16.8" font-size="8.8" fill="#5a5a5a" text-anchor="start" textLength="12.1" lengthAdjust="spacingAndGlyphs">GX</text>
<text x="82.4" y="16.8" font-size="8.8" fill="#5a5a5a" text-anchor="start" textLength="24.8" lengthAdjust="spacingAndGlyphs">17+2</text>
<text x="46.7" y="31.3" font-size="8.8" fill="#5a5a5a" text-anchor="start" textLength="16.1" lengthAdjust="spacingAndGlyphs">(HB</text>
<path d="M63.7 28.76C64.8 26.52 66.25 26.52 67.35 28.2C68.45 29.88 69.91 29.88 71 27.64" fill="none" stroke="#5a5a5a" stroke-width="1.1"/>
<text x="71.9" y="31.3" font-size="8.8" fill="#5a5a5a" text-anchor="start" textLength="17.6" lengthAdjust="spacingAndGlyphs">18.1</text>
<line x1="92" y1="28.2" x2="98" y2="28.2" stroke="#5a5a5a" stroke-width="0.85"/>
<text x="99" y="31.3" font-size="8.8" fill="#5a5a5a" text-anchor="start" textLength="37.2" lengthAdjust="spacingAndGlyphs">24.1km)</text>
<text x="46.7" y="44.3" font-size="8.8" fill="#5a5a5a" text-anchor="start" textLength="16.1" lengthAdjust="spacingAndGlyphs">(NB</text>
<path d="M63.7 41.76C64.8 39.52 66.25 39.52 67.35 41.2C68.45 42.88 69.91 42.88 71 40.64" fill="none" stroke="#5a5a5a" stroke-width="1.1"/>
<text x="71.9" y="44.3" font-size="8.8" fill="#5a5a5a" text-anchor="start" textLength="17.6" lengthAdjust="spacingAndGlyphs">16.6</text>
<line x1="92" y1="41.2" x2="98" y2="41.2" stroke="#5a5a5a" stroke-width="0.85"/>
<text x="99" y="44.3" font-size="8.8" fill="#5a5a5a" text-anchor="start" textLength="37.2" lengthAdjust="spacingAndGlyphs">18.1km)</text>
<text x="66.3" y="69.8" font-size="8.4" fill="#5a5a5a" text-anchor="start" textLength="33" lengthAdjust="spacingAndGlyphs">Normal</text>
<text x="67.4" y="77.4" font-size="8.4" fill="#5a5a5a" text-anchor="start" textLength="31.5" lengthAdjust="spacingAndGlyphs">Branch</text>
<line x1="69.3" y1="81.3" x2="95.7" y2="81.3" stroke="#555" stroke-width="0.85"/>
<path d="M71.8 79.7L68.8 81.3L71.8 82.9" fill="none" stroke="#3a3a3a" stroke-width="0.9"/>
<line x1="68.8" y1="81.3" x2="73.3" y2="81.3" stroke="#3a3a3a" stroke-width="0.9"/>
<path d="M93.2 79.7L96.2 81.3L93.2 82.9" fill="none" stroke="#3a3a3a" stroke-width="0.9"/>
<line x1="91.7" y1="81.3" x2="96.2" y2="81.3" stroke="#3a3a3a" stroke-width="0.9"/>
<text x="141.4" y="172.3" font-size="8.4" fill="#5a5a5a" text-anchor="start" textLength="45.7" lengthAdjust="spacingAndGlyphs">Horizontal</text>
<text x="147.5" y="180.5" font-size="8.4" fill="#5a5a5a" text-anchor="start" textLength="31.8" lengthAdjust="spacingAndGlyphs">Branch</text>
<line x1="97.8" y1="184.3" x2="201.9" y2="184.3" stroke="#555" stroke-width="0.85"/>
<path d="M199.4 182.7L202.4 184.3L199.4 185.9" fill="none" stroke="#3a3a3a" stroke-width="0.9"/>
<line x1="197.9" y1="184.3" x2="202.4" y2="184.3" stroke="#3a3a3a" stroke-width="0.9"/>
<circle cx="97.6" cy="184.3" r="0.9" fill="#222"/>
<text x="37.6" y="203.7" font-size="12.4" fill="#787878" text-anchor="end" textLength="19.3" lengthAdjust="spacingAndGlyphs">0.0</text>
<text x="37.6" y="167.48" font-size="12.4" fill="#787878" text-anchor="end" textLength="19.3" lengthAdjust="spacingAndGlyphs">0.2</text>
<text x="37.6" y="126.86" font-size="12.4" fill="#787878" text-anchor="end" textLength="19.3" lengthAdjust="spacingAndGlyphs">0.4</text>
<text x="37.6" y="86.24" font-size="12.4" fill="#787878" text-anchor="end" textLength="19.3" lengthAdjust="spacingAndGlyphs">0.6</text>
<text x="37.6" y="45.62" font-size="12.4" fill="#787878" text-anchor="end" textLength="19.3" lengthAdjust="spacingAndGlyphs">0.8</text>
<text x="37.6" y="8.7" font-size="12.4" fill="#787878" text-anchor="end" textLength="19.3" lengthAdjust="spacingAndGlyphs">1.0</text>
<text x="41.1" y="221" font-size="12.4" fill="#787878" text-anchor="middle" textLength="15" lengthAdjust="spacingAndGlyphs">15</text>
<text x="129.53" y="221" font-size="12.4" fill="#787878" text-anchor="middle" textLength="15" lengthAdjust="spacingAndGlyphs">20</text>
<text x="217.97" y="221" font-size="12.4" fill="#787878" text-anchor="middle" textLength="15" lengthAdjust="spacingAndGlyphs">25</text>
<text x="306.4" y="221" font-size="12.4" fill="#787878" text-anchor="middle" textLength="15" lengthAdjust="spacingAndGlyphs">30</text>
<text x="136.8" y="235.1" font-size="11.8" fill="#787878" text-anchor="start" textLength="38.8" lengthAdjust="spacingAndGlyphs">Radius</text>
<text x="181.2" y="235.1" font-size="11.8" fill="#787878" text-anchor="start" textLength="27.9" lengthAdjust="spacingAndGlyphs">(km)</text>
<text transform="translate(8.5 112.8) rotate(-90)" font-size="12.2" fill="#787878" textLength="22.1" lengthAdjust="spacingAndGlyphs">CDF</text>
<rect x="369.5" y="0.5" width="265" height="203" fill="none" stroke="#8a8a8a" stroke-width="1.1"/>
<line x1="369.5" y1="203.5" x2="369.5" y2="199.5" stroke="#8a8a8a" stroke-width="1"/>
<line x1="369.5" y1="0.5" x2="369.5" y2="4.5" stroke="#8a8a8a" stroke-width="1"/>
<line x1="378.33" y1="203.5" x2="378.33" y2="201.5" stroke="#8a8a8a" stroke-width="1"/>
<line x1="378.33" y1="0.5" x2="378.33" y2="2.5" stroke="#8a8a8a" stroke-width="1"/>
<line x1="387.17" y1="203.5" x2="387.17" y2="201.5" stroke="#8a8a8a" stroke-width="1"/>
<line x1="387.17" y1="0.5" x2="387.17" y2="2.5" stroke="#8a8a8a" stroke-width="1"/>
<line x1="396" y1="203.5" x2="396" y2="201.5" stroke="#8a8a8a" stroke-width="1"/>
<line x1="396" y1="0.5" x2="396" y2="2.5" stroke="#8a8a8a" stroke-width="1"/>
<line x1="404.83" y1="203.5" x2="404.83" y2="201.5" stroke="#8a8a8a" stroke-width="1"/>
<line x1="404.83" y1="0.5" x2="404.83" y2="2.5" stroke="#8a8a8a" stroke-width="1"/>
<line x1="413.67" y1="203.5" x2="413.67" y2="201.5" stroke="#8a8a8a" stroke-width="1"/>
<line x1="413.67" y1="0.5" x2="413.67" y2="2.5" stroke="#8a8a8a" stroke-width="1"/>
<line x1="422.5" y1="203.5" x2="422.5" y2="201.5" stroke="#8a8a8a" stroke-width="1"/>
<line x1="422.5" y1="0.5" x2="422.5" y2="2.5" stroke="#8a8a8a" stroke-width="1"/>
<line x1="431.33" y1="203.5" x2="431.33" y2="201.5" stroke="#8a8a8a" stroke-width="1"/>
<line x1="431.33" y1="0.5" x2="431.33" y2="2.5" stroke="#8a8a8a" stroke-width="1"/>
<line x1="440.17" y1="203.5" x2="440.17" y2="201.5" stroke="#8a8a8a" stroke-width="1"/>
<line x1="440.17" y1="0.5" x2="440.17" y2="2.5" stroke="#8a8a8a" stroke-width="1"/>
<line x1="449" y1="203.5" x2="449" y2="201.5" stroke="#8a8a8a" stroke-width="1"/>
<line x1="449" y1="0.5" x2="449" y2="2.5" stroke="#8a8a8a" stroke-width="1"/>
<line x1="457.83" y1="203.5" x2="457.83" y2="199.5" stroke="#8a8a8a" stroke-width="1"/>
<line x1="457.83" y1="0.5" x2="457.83" y2="4.5" stroke="#8a8a8a" stroke-width="1"/>
<line x1="466.67" y1="203.5" x2="466.67" y2="201.5" stroke="#8a8a8a" stroke-width="1"/>
<line x1="466.67" y1="0.5" x2="466.67" y2="2.5" stroke="#8a8a8a" stroke-width="1"/>
<line x1="475.5" y1="203.5" x2="475.5" y2="201.5" stroke="#8a8a8a" stroke-width="1"/>
<line x1="475.5" y1="0.5" x2="475.5" y2="2.5" stroke="#8a8a8a" stroke-width="1"/>
<line x1="484.33" y1="203.5" x2="484.33" y2="201.5" stroke="#8a8a8a" stroke-width="1"/>
<line x1="484.33" y1="0.5" x2="484.33" y2="2.5" stroke="#8a8a8a" stroke-width="1"/>
<line x1="493.17" y1="203.5" x2="493.17" y2="201.5" stroke="#8a8a8a" stroke-width="1"/>
<line x1="493.17" y1="0.5" x2="493.17" y2="2.5" stroke="#8a8a8a" stroke-width="1"/>
<line x1="502" y1="203.5" x2="502" y2="201.5" stroke="#8a8a8a" stroke-width="1"/>
<line x1="502" y1="0.5" x2="502" y2="2.5" stroke="#8a8a8a" stroke-width="1"/>
<line x1="510.83" y1="203.5" x2="510.83" y2="201.5" stroke="#8a8a8a" stroke-width="1"/>
<line x1="510.83" y1="0.5" x2="510.83" y2="2.5" stroke="#8a8a8a" stroke-width="1"/>
<line x1="519.67" y1="203.5" x2="519.67" y2="201.5" stroke="#8a8a8a" stroke-width="1"/>
<line x1="519.67" y1="0.5" x2="519.67" y2="2.5" stroke="#8a8a8a" stroke-width="1"/>
<line x1="528.5" y1="203.5" x2="528.5" y2="201.5" stroke="#8a8a8a" stroke-width="1"/>
<line x1="528.5" y1="0.5" x2="528.5" y2="2.5" stroke="#8a8a8a" stroke-width="1"/>
<line x1="537.33" y1="203.5" x2="537.33" y2="201.5" stroke="#8a8a8a" stroke-width="1"/>
<line x1="537.33" y1="0.5" x2="537.33" y2="2.5" stroke="#8a8a8a" stroke-width="1"/>
<line x1="546.17" y1="203.5" x2="546.17" y2="199.5" stroke="#8a8a8a" stroke-width="1"/>
<line x1="546.17" y1="0.5" x2="546.17" y2="4.5" stroke="#8a8a8a" stroke-width="1"/>
<line x1="555" y1="203.5" x2="555" y2="201.5" stroke="#8a8a8a" stroke-width="1"/>
<line x1="555" y1="0.5" x2="555" y2="2.5" stroke="#8a8a8a" stroke-width="1"/>
<line x1="563.83" y1="203.5" x2="563.83" y2="201.5" stroke="#8a8a8a" stroke-width="1"/>
<line x1="563.83" y1="0.5" x2="563.83" y2="2.5" stroke="#8a8a8a" stroke-width="1"/>
<line x1="572.67" y1="203.5" x2="572.67" y2="201.5" stroke="#8a8a8a" stroke-width="1"/>
<line x1="572.67" y1="0.5" x2="572.67" y2="2.5" stroke="#8a8a8a" stroke-width="1"/>
<line x1="581.5" y1="203.5" x2="581.5" y2="201.5" stroke="#8a8a8a" stroke-width="1"/>
<line x1="581.5" y1="0.5" x2="581.5" y2="2.5" stroke="#8a8a8a" stroke-width="1"/>
<line x1="590.33" y1="203.5" x2="590.33" y2="201.5" stroke="#8a8a8a" stroke-width="1"/>
<line x1="590.33" y1="0.5" x2="590.33" y2="2.5" stroke="#8a8a8a" stroke-width="1"/>
<line x1="599.17" y1="203.5" x2="599.17" y2="201.5" stroke="#8a8a8a" stroke-width="1"/>
<line x1="599.17" y1="0.5" x2="599.17" y2="2.5" stroke="#8a8a8a" stroke-width="1"/>
<line x1="608" y1="203.5" x2="608" y2="201.5" stroke="#8a8a8a" stroke-width="1"/>
<line x1="608" y1="0.5" x2="608" y2="2.5" stroke="#8a8a8a" stroke-width="1"/>
<line x1="616.83" y1="203.5" x2="616.83" y2="201.5" stroke="#8a8a8a" stroke-width="1"/>
<line x1="616.83" y1="0.5" x2="616.83" y2="2.5" stroke="#8a8a8a" stroke-width="1"/>
<line x1="625.67" y1="203.5" x2="625.67" y2="201.5" stroke="#8a8a8a" stroke-width="1"/>
<line x1="625.67" y1="0.5" x2="625.67" y2="2.5" stroke="#8a8a8a" stroke-width="1"/>
<line x1="634.5" y1="203.5" x2="634.5" y2="199.5" stroke="#8a8a8a" stroke-width="1"/>
<line x1="634.5" y1="0.5" x2="634.5" y2="4.5" stroke="#8a8a8a" stroke-width="1"/>
<line x1="369.5" y1="203.5" x2="374.8" y2="203.5" stroke="#8a8a8a" stroke-width="1"/>
<line x1="634.5" y1="203.5" x2="629.2" y2="203.5" stroke="#8a8a8a" stroke-width="1"/>
<line x1="369.5" y1="195.38" x2="372.15" y2="195.38" stroke="#8a8a8a" stroke-width="1"/>
<line x1="634.5" y1="195.38" x2="631.85" y2="195.38" stroke="#8a8a8a" stroke-width="1"/>
<line x1="369.5" y1="187.26" x2="372.15" y2="187.26" stroke="#8a8a8a" stroke-width="1"/>
<line x1="634.5" y1="187.26" x2="631.85" y2="187.26" stroke="#8a8a8a" stroke-width="1"/>
<line x1="369.5" y1="179.14" x2="372.15" y2="179.14" stroke="#8a8a8a" stroke-width="1"/>
<line x1="634.5" y1="179.14" x2="631.85" y2="179.14" stroke="#8a8a8a" stroke-width="1"/>
<line x1="369.5" y1="171.02" x2="372.15" y2="171.02" stroke="#8a8a8a" stroke-width="1"/>
<line x1="634.5" y1="171.02" x2="631.85" y2="171.02" stroke="#8a8a8a" stroke-width="1"/>
<line x1="369.5" y1="162.9" x2="374.8" y2="162.9" stroke="#8a8a8a" stroke-width="1"/>
<line x1="634.5" y1="162.9" x2="629.2" y2="162.9" stroke="#8a8a8a" stroke-width="1"/>
<line x1="369.5" y1="154.78" x2="372.15" y2="154.78" stroke="#8a8a8a" stroke-width="1"/>
<line x1="634.5" y1="154.78" x2="631.85" y2="154.78" stroke="#8a8a8a" stroke-width="1"/>
<line x1="369.5" y1="146.66" x2="372.15" y2="146.66" stroke="#8a8a8a" stroke-width="1"/>
<line x1="634.5" y1="146.66" x2="631.85" y2="146.66" stroke="#8a8a8a" stroke-width="1"/>
<line x1="369.5" y1="138.54" x2="372.15" y2="138.54" stroke="#8a8a8a" stroke-width="1"/>
<line x1="634.5" y1="138.54" x2="631.85" y2="138.54" stroke="#8a8a8a" stroke-width="1"/>
<line x1="369.5" y1="130.42" x2="372.15" y2="130.42" stroke="#8a8a8a" stroke-width="1"/>
<line x1="634.5" y1="130.42" x2="631.85" y2="130.42" stroke="#8a8a8a" stroke-width="1"/>
<line x1="369.5" y1="122.3" x2="374.8" y2="122.3" stroke="#8a8a8a" stroke-width="1"/>
<line x1="634.5" y1="122.3" x2="629.2" y2="122.3" stroke="#8a8a8a" stroke-width="1"/>
<line x1="369.5" y1="114.18" x2="372.15" y2="114.18" stroke="#8a8a8a" stroke-width="1"/>
<line x1="634.5" y1="114.18" x2="631.85" y2="114.18" stroke="#8a8a8a" stroke-width="1"/>
<line x1="369.5" y1="106.06" x2="372.15" y2="106.06" stroke="#8a8a8a" stroke-width="1"/>
<line x1="634.5" y1="106.06" x2="631.85" y2="106.06" stroke="#8a8a8a" stroke-width="1"/>
<line x1="369.5" y1="97.94" x2="372.15" y2="97.94" stroke="#8a8a8a" stroke-width="1"/>
<line x1="634.5" y1="97.94" x2="631.85" y2="97.94" stroke="#8a8a8a" stroke-width="1"/>
<line x1="369.5" y1="89.82" x2="372.15" y2="89.82" stroke="#8a8a8a" stroke-width="1"/>
<line x1="634.5" y1="89.82" x2="631.85" y2="89.82" stroke="#8a8a8a" stroke-width="1"/>
<line x1="369.5" y1="81.7" x2="374.8" y2="81.7" stroke="#8a8a8a" stroke-width="1"/>
<line x1="634.5" y1="81.7" x2="629.2" y2="81.7" stroke="#8a8a8a" stroke-width="1"/>
<line x1="369.5" y1="73.58" x2="372.15" y2="73.58" stroke="#8a8a8a" stroke-width="1"/>
<line x1="634.5" y1="73.58" x2="631.85" y2="73.58" stroke="#8a8a8a" stroke-width="1"/>
<line x1="369.5" y1="65.46" x2="372.15" y2="65.46" stroke="#8a8a8a" stroke-width="1"/>
<line x1="634.5" y1="65.46" x2="631.85" y2="65.46" stroke="#8a8a8a" stroke-width="1"/>
<line x1="369.5" y1="57.34" x2="372.15" y2="57.34" stroke="#8a8a8a" stroke-width="1"/>
<line x1="634.5" y1="57.34" x2="631.85" y2="57.34" stroke="#8a8a8a" stroke-width="1"/>
<line x1="369.5" y1="49.22" x2="372.15" y2="49.22" stroke="#8a8a8a" stroke-width="1"/>
<line x1="634.5" y1="49.22" x2="631.85" y2="49.22" stroke="#8a8a8a" stroke-width="1"/>
<line x1="369.5" y1="41.1" x2="374.8" y2="41.1" stroke="#8a8a8a" stroke-width="1"/>
<line x1="634.5" y1="41.1" x2="629.2" y2="41.1" stroke="#8a8a8a" stroke-width="1"/>
<line x1="369.5" y1="32.98" x2="372.15" y2="32.98" stroke="#8a8a8a" stroke-width="1"/>
<line x1="634.5" y1="32.98" x2="631.85" y2="32.98" stroke="#8a8a8a" stroke-width="1"/>
<line x1="369.5" y1="24.86" x2="372.15" y2="24.86" stroke="#8a8a8a" stroke-width="1"/>
<line x1="634.5" y1="24.86" x2="631.85" y2="24.86" stroke="#8a8a8a" stroke-width="1"/>
<line x1="369.5" y1="16.74" x2="372.15" y2="16.74" stroke="#8a8a8a" stroke-width="1"/>
<line x1="634.5" y1="16.74" x2="631.85" y2="16.74" stroke="#8a8a8a" stroke-width="1"/>
<line x1="369.5" y1="8.62" x2="372.15" y2="8.62" stroke="#8a8a8a" stroke-width="1"/>
<line x1="634.5" y1="8.62" x2="631.85" y2="8.62" stroke="#8a8a8a" stroke-width="1"/>
<line x1="369.5" y1="0.5" x2="374.8" y2="0.5" stroke="#8a8a8a" stroke-width="1"/>
<line x1="634.5" y1="0.5" x2="629.2" y2="0.5" stroke="#8a8a8a" stroke-width="1"/>
<rect x="423" y="0.5" width="123.5" height="203" fill="#b5b5b5"/>
<rect x="546.5" y="0.5" width="88" height="203" fill="#dcdcdc"/>
<rect x="369.5" y="0.5" width="265" height="203" fill="none" stroke="#8a8a8a" stroke-width="1.1"/>
<line x1="369.5" y1="203.5" x2="369.5" y2="201.9" stroke="#707070" stroke-width="1"/>
<line x1="369.5" y1="0.5" x2="369.5" y2="2.1" stroke="#707070" stroke-width="1"/>
<line x1="378.33" y1="203.5" x2="378.33" y2="201.9" stroke="#707070" stroke-width="1"/>
<line x1="378.33" y1="0.5" x2="378.33" y2="2.1" stroke="#707070" stroke-width="1"/>
<line x1="387.17" y1="203.5" x2="387.17" y2="201.9" stroke="#707070" stroke-width="1"/>
<line x1="387.17" y1="0.5" x2="387.17" y2="2.1" stroke="#707070" stroke-width="1"/>
<line x1="396" y1="203.5" x2="396" y2="201.9" stroke="#707070" stroke-width="1"/>
<line x1="396" y1="0.5" x2="396" y2="2.1" stroke="#707070" stroke-width="1"/>
<line x1="404.83" y1="203.5" x2="404.83" y2="201.9" stroke="#707070" stroke-width="1"/>
<line x1="404.83" y1="0.5" x2="404.83" y2="2.1" stroke="#707070" stroke-width="1"/>
<line x1="413.67" y1="203.5" x2="413.67" y2="201.9" stroke="#707070" stroke-width="1"/>
<line x1="413.67" y1="0.5" x2="413.67" y2="2.1" stroke="#707070" stroke-width="1"/>
<line x1="422.5" y1="203.5" x2="422.5" y2="201.9" stroke="#707070" stroke-width="1"/>
<line x1="422.5" y1="0.5" x2="422.5" y2="2.1" stroke="#707070" stroke-width="1"/>
<line x1="431.33" y1="203.5" x2="431.33" y2="201.9" stroke="#707070" stroke-width="1"/>
<line x1="431.33" y1="0.5" x2="431.33" y2="2.1" stroke="#707070" stroke-width="1"/>
<line x1="440.17" y1="203.5" x2="440.17" y2="201.9" stroke="#707070" stroke-width="1"/>
<line x1="440.17" y1="0.5" x2="440.17" y2="2.1" stroke="#707070" stroke-width="1"/>
<line x1="449" y1="203.5" x2="449" y2="201.9" stroke="#707070" stroke-width="1"/>
<line x1="449" y1="0.5" x2="449" y2="2.1" stroke="#707070" stroke-width="1"/>
<line x1="457.83" y1="203.5" x2="457.83" y2="201.9" stroke="#707070" stroke-width="1"/>
<line x1="457.83" y1="0.5" x2="457.83" y2="2.1" stroke="#707070" stroke-width="1"/>
<line x1="466.67" y1="203.5" x2="466.67" y2="201.9" stroke="#707070" stroke-width="1"/>
<line x1="466.67" y1="0.5" x2="466.67" y2="2.1" stroke="#707070" stroke-width="1"/>
<line x1="475.5" y1="203.5" x2="475.5" y2="201.9" stroke="#707070" stroke-width="1"/>
<line x1="475.5" y1="0.5" x2="475.5" y2="2.1" stroke="#707070" stroke-width="1"/>
<line x1="484.33" y1="203.5" x2="484.33" y2="201.9" stroke="#707070" stroke-width="1"/>
<line x1="484.33" y1="0.5" x2="484.33" y2="2.1" stroke="#707070" stroke-width="1"/>
<line x1="493.17" y1="203.5" x2="493.17" y2="201.9" stroke="#707070" stroke-width="1"/>
<line x1="493.17" y1="0.5" x2="493.17" y2="2.1" stroke="#707070" stroke-width="1"/>
<line x1="502" y1="203.5" x2="502" y2="201.9" stroke="#707070" stroke-width="1"/>
<line x1="502" y1="0.5" x2="502" y2="2.1" stroke="#707070" stroke-width="1"/>
<line x1="510.83" y1="203.5" x2="510.83" y2="201.9" stroke="#707070" stroke-width="1"/>
<line x1="510.83" y1="0.5" x2="510.83" y2="2.1" stroke="#707070" stroke-width="1"/>
<line x1="519.67" y1="203.5" x2="519.67" y2="201.9" stroke="#707070" stroke-width="1"/>
<line x1="519.67" y1="0.5" x2="519.67" y2="2.1" stroke="#707070" stroke-width="1"/>
<line x1="528.5" y1="203.5" x2="528.5" y2="201.9" stroke="#707070" stroke-width="1"/>
<line x1="528.5" y1="0.5" x2="528.5" y2="2.1" stroke="#707070" stroke-width="1"/>
<line x1="537.33" y1="203.5" x2="537.33" y2="201.9" stroke="#707070" stroke-width="1"/>
<line x1="537.33" y1="0.5" x2="537.33" y2="2.1" stroke="#707070" stroke-width="1"/>
<line x1="546.17" y1="203.5" x2="546.17" y2="201.9" stroke="#707070" stroke-width="1"/>
<line x1="546.17" y1="0.5" x2="546.17" y2="2.1" stroke="#707070" stroke-width="1"/>
<line x1="555" y1="203.5" x2="555" y2="201.9" stroke="#707070" stroke-width="1"/>
<line x1="555" y1="0.5" x2="555" y2="2.1" stroke="#707070" stroke-width="1"/>
<line x1="563.83" y1="203.5" x2="563.83" y2="201.9" stroke="#707070" stroke-width="1"/>
<line x1="563.83" y1="0.5" x2="563.83" y2="2.1" stroke="#707070" stroke-width="1"/>
<line x1="572.67" y1="203.5" x2="572.67" y2="201.9" stroke="#707070" stroke-width="1"/>
<line x1="572.67" y1="0.5" x2="572.67" y2="2.1" stroke="#707070" stroke-width="1"/>
<line x1="581.5" y1="203.5" x2="581.5" y2="201.9" stroke="#707070" stroke-width="1"/>
<line x1="581.5" y1="0.5" x2="581.5" y2="2.1" stroke="#707070" stroke-width="1"/>
<line x1="590.33" y1="203.5" x2="590.33" y2="201.9" stroke="#707070" stroke-width="1"/>
<line x1="590.33" y1="0.5" x2="590.33" y2="2.1" stroke="#707070" stroke-width="1"/>
<line x1="599.17" y1="203.5" x2="599.17" y2="201.9" stroke="#707070" stroke-width="1"/>
<line x1="599.17" y1="0.5" x2="599.17" y2="2.1" stroke="#707070" stroke-width="1"/>
<line x1="608" y1="203.5" x2="608" y2="201.9" stroke="#707070" stroke-width="1"/>
<line x1="608" y1="0.5" x2="608" y2="2.1" stroke="#707070" stroke-width="1"/>
<line x1="616.83" y1="203.5" x2="616.83" y2="201.9" stroke="#707070" stroke-width="1"/>
<line x1="616.83" y1="0.5" x2="616.83" y2="2.1" stroke="#707070" stroke-width="1"/>
<line x1="625.67" y1="203.5" x2="625.67" y2="201.9" stroke="#707070" stroke-width="1"/>
<line x1="625.67" y1="0.5" x2="625.67" y2="2.1" stroke="#707070" stroke-width="1"/>
<line x1="634.5" y1="203.5" x2="634.5" y2="201.9" stroke="#707070" stroke-width="1"/>
<line x1="634.5" y1="0.5" x2="634.5" y2="2.1" stroke="#707070" stroke-width="1"/>
<line x1="369.5" y1="203.5" x2="371.1" y2="203.5" stroke="#707070" stroke-width="1"/>
<line x1="634.5" y1="203.5" x2="632.9" y2="203.5" stroke="#707070" stroke-width="1"/>
<line x1="369.5" y1="195.38" x2="371.1" y2="195.38" stroke="#707070" stroke-width="1"/>
<line x1="634.5" y1="195.38" x2="632.9" y2="195.38" stroke="#707070" stroke-width="1"/>
<line x1="369.5" y1="187.26" x2="371.1" y2="187.26" stroke="#707070" stroke-width="1"/>
<line x1="634.5" y1="187.26" x2="632.9" y2="187.26" stroke="#707070" stroke-width="1"/>
<line x1="369.5" y1="179.14" x2="371.1" y2="179.14" stroke="#707070" stroke-width="1"/>
<line x1="634.5" y1="179.14" x2="632.9" y2="179.14" stroke="#707070" stroke-width="1"/>
<line x1="369.5" y1="171.02" x2="371.1" y2="171.02" stroke="#707070" stroke-width="1"/>
<line x1="634.5" y1="171.02" x2="632.9" y2="171.02" stroke="#707070" stroke-width="1"/>
<line x1="369.5" y1="162.9" x2="371.1" y2="162.9" stroke="#707070" stroke-width="1"/>
<line x1="634.5" y1="162.9" x2="632.9" y2="162.9" stroke="#707070" stroke-width="1"/>
<line x1="369.5" y1="154.78" x2="371.1" y2="154.78" stroke="#707070" stroke-width="1"/>
<line x1="634.5" y1="154.78" x2="632.9" y2="154.78" stroke="#707070" stroke-width="1"/>
<line x1="369.5" y1="146.66" x2="371.1" y2="146.66" stroke="#707070" stroke-width="1"/>
<line x1="634.5" y1="146.66" x2="632.9" y2="146.66" stroke="#707070" stroke-width="1"/>
<line x1="369.5" y1="138.54" x2="371.1" y2="138.54" stroke="#707070" stroke-width="1"/>
<line x1="634.5" y1="138.54" x2="632.9" y2="138.54" stroke="#707070" stroke-width="1"/>
<line x1="369.5" y1="130.42" x2="371.1" y2="130.42" stroke="#707070" stroke-width="1"/>
<line x1="634.5" y1="130.42" x2="632.9" y2="130.42" stroke="#707070" stroke-width="1"/>
<line x1="369.5" y1="122.3" x2="371.1" y2="122.3" stroke="#707070" stroke-width="1"/>
<line x1="634.5" y1="122.3" x2="632.9" y2="122.3" stroke="#707070" stroke-width="1"/>
<line x1="369.5" y1="114.18" x2="371.1" y2="114.18" stroke="#707070" stroke-width="1"/>
<line x1="634.5" y1="114.18" x2="632.9" y2="114.18" stroke="#707070" stroke-width="1"/>
<line x1="369.5" y1="106.06" x2="371.1" y2="106.06" stroke="#707070" stroke-width="1"/>
<line x1="634.5" y1="106.06" x2="632.9" y2="106.06" stroke="#707070" stroke-width="1"/>
<line x1="369.5" y1="97.94" x2="371.1" y2="97.94" stroke="#707070" stroke-width="1"/>
<line x1="634.5" y1="97.94" x2="632.9" y2="97.94" stroke="#707070" stroke-width="1"/>
<line x1="369.5" y1="89.82" x2="371.1" y2="89.82" stroke="#707070" stroke-width="1"/>
<line x1="634.5" y1="89.82" x2="632.9" y2="89.82" stroke="#707070" stroke-width="1"/>
<line x1="369.5" y1="81.7" x2="371.1" y2="81.7" stroke="#707070" stroke-width="1"/>
<line x1="634.5" y1="81.7" x2="632.9" y2="81.7" stroke="#707070" stroke-width="1"/>
<line x1="369.5" y1="73.58" x2="371.1" y2="73.58" stroke="#707070" stroke-width="1"/>
<line x1="634.5" y1="73.58" x2="632.9" y2="73.58" stroke="#707070" stroke-width="1"/>
<line x1="369.5" y1="65.46" x2="371.1" y2="65.46" stroke="#707070" stroke-width="1"/>
<line x1="634.5" y1="65.46" x2="632.9" y2="65.46" stroke="#707070" stroke-width="1"/>
<line x1="369.5" y1="57.34" x2="371.1" y2="57.34" stroke="#707070" stroke-width="1"/>
<line x1="634.5" y1="57.34" x2="632.9" y2="57.34" stroke="#707070" stroke-width="1"/>
<line x1="369.5" y1="49.22" x2="371.1" y2="49.22" stroke="#707070" stroke-width="1"/>
<line x1="634.5" y1="49.22" x2="632.9" y2="49.22" stroke="#707070" stroke-width="1"/>
<line x1="369.5" y1="41.1" x2="371.1" y2="41.1" stroke="#707070" stroke-width="1"/>
<line x1="634.5" y1="41.1" x2="632.9" y2="41.1" stroke="#707070" stroke-width="1"/>
<line x1="369.5" y1="32.98" x2="371.1" y2="32.98" stroke="#707070" stroke-width="1"/>
<line x1="634.5" y1="32.98" x2="632.9" y2="32.98" stroke="#707070" stroke-width="1"/>
<line x1="369.5" y1="24.86" x2="371.1" y2="24.86" stroke="#707070" stroke-width="1"/>
<line x1="634.5" y1="24.86" x2="632.9" y2="24.86" stroke="#707070" stroke-width="1"/>
<line x1="369.5" y1="16.74" x2="371.1" y2="16.74" stroke="#707070" stroke-width="1"/>
<line x1="634.5" y1="16.74" x2="632.9" y2="16.74" stroke="#707070" stroke-width="1"/>
<line x1="369.5" y1="8.62" x2="371.1" y2="8.62" stroke="#707070" stroke-width="1"/>
<line x1="634.5" y1="8.62" x2="632.9" y2="8.62" stroke="#707070" stroke-width="1"/>
<line x1="369.5" y1="0.5" x2="371.1" y2="0.5" stroke="#707070" stroke-width="1"/>
<line x1="634.5" y1="0.5" x2="632.9" y2="0.5" stroke="#707070" stroke-width="1"/>
<text x="449.2" y="29.1" font-size="8.8" fill="#5a5a5a" text-anchor="start" textLength="46" lengthAdjust="spacingAndGlyphs">Horizontal</text>
<text x="500.5" y="29.1" font-size="8.8" fill="#5a5a5a" text-anchor="start" textLength="32" lengthAdjust="spacingAndGlyphs">Branch</text>
<text x="554.9" y="28.9" font-size="8.8" fill="#5a5a5a" text-anchor="start" textLength="33" lengthAdjust="spacingAndGlyphs">Normal</text>
<text x="592.9" y="28.9" font-size="8.8" fill="#5a5a5a" text-anchor="start" textLength="32.5" lengthAdjust="spacingAndGlyphs">Branch</text>
<g clip-path="url(#cb)">
<line x1="507.64" y1="163.7" x2="507.64" y2="185.3" stroke="#b97474" stroke-width="1"/>
<line x1="515.61" y1="162.2" x2="515.61" y2="183.4" stroke="#b97474" stroke-width="1"/>
<line x1="524.46" y1="117.8" x2="524.46" y2="187.8" stroke="#b97474" stroke-width="1"/>
<line x1="533.32" y1="137" x2="533.32" y2="151.6" stroke="#b97474" stroke-width="1"/>
<line x1="542.17" y1="143" x2="542.17" y2="144.8" stroke="#b97474" stroke-width="1"/>
<line x1="542.17" y1="166.2" x2="542.17" y2="168" stroke="#b97474" stroke-width="1"/>
<line x1="551.91" y1="161.6" x2="551.91" y2="172.6" stroke="#b97474" stroke-width="1"/>
<line x1="559.88" y1="129" x2="559.88" y2="150.8" stroke="#b97474" stroke-width="1"/>
<line x1="586.45" y1="129.2" x2="586.45" y2="165.2" stroke="#b97474" stroke-width="1"/>
<line x1="595.3" y1="137.8" x2="595.3" y2="181.1" stroke="#b97474" stroke-width="1"/>
<line x1="429.71" y1="130.6" x2="429.71" y2="202" stroke="#7389dc" stroke-width="1"/>
<line x1="437.68" y1="128" x2="437.68" y2="175.6" stroke="#7389dc" stroke-width="1"/>
<line x1="444.77" y1="167.7" x2="444.77" y2="186.9" stroke="#7389dc" stroke-width="1"/>
<line x1="533.32" y1="151.6" x2="533.32" y2="165.8" stroke="#7389dc" stroke-width="1"/>
<line x1="542.17" y1="144.8" x2="542.17" y2="166.2" stroke="#7389dc" stroke-width="1"/>
<line x1="551.91" y1="141.2" x2="551.91" y2="161.6" stroke="#7389dc" stroke-width="1"/>
<line x1="559.88" y1="155.3" x2="559.88" y2="174.2" stroke="#7389dc" stroke-width="1"/>
<line x1="568.74" y1="106.6" x2="568.74" y2="164.4" stroke="#7389dc" stroke-width="1"/>
<line x1="577.59" y1="66.2" x2="577.59" y2="198" stroke="#7389dc" stroke-width="1"/>
<line x1="586.45" y1="2.5" x2="586.45" y2="129.2" stroke="#7389dc" stroke-width="1"/>
<line x1="595.3" y1="42.4" x2="595.3" y2="137.8" stroke="#7389dc" stroke-width="1"/>
<line x1="604.16" y1="12.4" x2="604.16" y2="181.2" stroke="#7389dc" stroke-width="1"/>
<path d="M495.28 170.6L502.28 177.6M495.28 177.6L502.28 170.6" stroke="#9c3838" stroke-width="1.0" opacity="0.85"/>
<path d="M495.28 174.1L502.28 174.1M498.78 170.6L498.78 177.6" stroke="#9c3838" stroke-width="0.85" opacity="0.65"/>
<circle cx="498.78" cy="174.1" r="1.0" fill="#7a1515"/>
<path d="M504.14 171L511.14 178M504.14 178L511.14 171" stroke="#9c3838" stroke-width="1.0" opacity="0.85"/>
<path d="M504.14 174.5L511.14 174.5M507.64 171L507.64 178" stroke="#9c3838" stroke-width="0.85" opacity="0.65"/>
<circle cx="507.64" cy="174.5" r="1.0" fill="#7a1515"/>
<path d="M512.11 169.3L519.11 176.3M512.11 176.3L519.11 169.3" stroke="#9c3838" stroke-width="1.0" opacity="0.85"/>
<path d="M512.11 172.8L519.11 172.8M515.61 169.3L515.61 176.3" stroke="#9c3838" stroke-width="0.85" opacity="0.65"/>
<circle cx="515.61" cy="172.8" r="1.0" fill="#7a1515"/>
<path d="M520.96 149.3L527.96 156.3M520.96 156.3L527.96 149.3" stroke="#9c3838" stroke-width="1.0" opacity="0.85"/>
<path d="M520.96 152.8L527.96 152.8M524.46 149.3L524.46 156.3" stroke="#9c3838" stroke-width="0.85" opacity="0.65"/>
<circle cx="524.46" cy="152.8" r="1.0" fill="#7a1515"/>
<path d="M529.82 147.8L536.82 154.8M529.82 154.8L536.82 147.8" stroke="#9c3838" stroke-width="1.0" opacity="0.85"/>
<path d="M529.82 151.3L536.82 151.3M533.32 147.8L533.32 154.8" stroke="#9c3838" stroke-width="0.85" opacity="0.65"/>
<circle cx="533.32" cy="151.3" r="1.0" fill="#7a1515"/>
<path d="M538.67 152L545.67 159M538.67 159L545.67 152" stroke="#9c3838" stroke-width="1.0" opacity="0.85"/>
<path d="M538.67 155.5L545.67 155.5M542.17 152L542.17 159" stroke="#9c3838" stroke-width="0.85" opacity="0.65"/>
<circle cx="542.17" cy="155.5" r="1.0" fill="#7a1515"/>
<path d="M548.41 163.3L555.41 170.3M548.41 170.3L555.41 163.3" stroke="#9c3838" stroke-width="1.0" opacity="0.85"/>
<path d="M548.41 166.8L555.41 166.8M551.91 163.3L551.91 170.3" stroke="#9c3838" stroke-width="0.85" opacity="0.65"/>
<circle cx="551.91" cy="166.8" r="1.0" fill="#7a1515"/>
<path d="M556.38 136.3L563.38 143.3M556.38 143.3L563.38 136.3" stroke="#9c3838" stroke-width="1.0" opacity="0.85"/>
<path d="M556.38 139.8L563.38 139.8M559.88 136.3L559.88 143.3" stroke="#9c3838" stroke-width="0.85" opacity="0.65"/>
<circle cx="559.88" cy="139.8" r="1.0" fill="#7a1515"/>
<path d="M565.24 148.3L572.24 155.3M565.24 155.3L572.24 148.3" stroke="#9c3838" stroke-width="1.0" opacity="0.85"/>
<path d="M565.24 151.8L572.24 151.8M568.74 148.3L568.74 155.3" stroke="#9c3838" stroke-width="0.85" opacity="0.65"/>
<circle cx="568.74" cy="151.8" r="1.0" fill="#7a1515"/>
<path d="M574.09 108.7L581.09 115.7M574.09 115.7L581.09 108.7" stroke="#9c3838" stroke-width="1.0" opacity="0.85"/>
<path d="M574.09 112.2L581.09 112.2M577.59 108.7L577.59 115.7" stroke="#9c3838" stroke-width="0.85" opacity="0.65"/>
<circle cx="577.59" cy="112.2" r="1.0" fill="#7a1515"/>
<path d="M582.95 134L589.95 141M582.95 141L589.95 134" stroke="#9c3838" stroke-width="1.0" opacity="0.85"/>
<path d="M582.95 137.5L589.95 137.5M586.45 134L586.45 141" stroke="#9c3838" stroke-width="0.85" opacity="0.65"/>
<circle cx="586.45" cy="137.5" r="1.0" fill="#7a1515"/>
<path d="M591.8 115.6L598.8 122.6M591.8 122.6L598.8 115.6" stroke="#9c3838" stroke-width="1.0" opacity="0.85"/>
<path d="M591.8 119.1L598.8 119.1M595.3 115.6L595.3 122.6" stroke="#9c3838" stroke-width="0.85" opacity="0.65"/>
<circle cx="595.3" cy="119.1" r="1.0" fill="#7a1515"/>
<path d="M429.71 162.45L433.26 166.3L429.71 170.15L426.16 166.3Z" fill="none" stroke="#4264da" stroke-width="1.05"/>
<path d="M427.91 166.3h3.6M429.71 164.5v3.6" stroke="#4264da" stroke-width="0.75" opacity="0.95"/>
<circle cx="429.71" cy="166.3" r="1.5" fill="none" stroke="#4264da" stroke-width="0.5" opacity="0.45"/>
<path d="M428.91 163.35h1.6M428.91 169.25h1.6" stroke="#4264da" stroke-width="1.2"/>
<path d="M437.68 147.95L441.23 151.8L437.68 155.65L434.13 151.8Z" fill="none" stroke="#4264da" stroke-width="1.05"/>
<path d="M435.88 151.8h3.6M437.68 150v3.6" stroke="#4264da" stroke-width="0.75" opacity="0.95"/>
<circle cx="437.68" cy="151.8" r="1.5" fill="none" stroke="#4264da" stroke-width="0.5" opacity="0.45"/>
<path d="M436.88 148.85h1.6M436.88 154.75h1.6" stroke="#4264da" stroke-width="1.2"/>
<path d="M444.77 173.45L448.32 177.3L444.77 181.15L441.22 177.3Z" fill="none" stroke="#4264da" stroke-width="1.05"/>
<path d="M442.97 177.3h3.6M444.77 175.5v3.6" stroke="#4264da" stroke-width="0.75" opacity="0.95"/>
<circle cx="444.77" cy="177.3" r="1.5" fill="none" stroke="#4264da" stroke-width="0.5" opacity="0.45"/>
<path d="M443.97 174.35h1.6M443.97 180.25h1.6" stroke="#4264da" stroke-width="1.2"/>
<path d="M454.51 169.25L458.06 173.1L454.51 176.95L450.96 173.1Z" fill="none" stroke="#4264da" stroke-width="1.05"/>
<path d="M452.71 173.1h3.6M454.51 171.3v3.6" stroke="#4264da" stroke-width="0.75" opacity="0.95"/>
<circle cx="454.51" cy="173.1" r="1.5" fill="none" stroke="#4264da" stroke-width="0.5" opacity="0.45"/>
<path d="M453.71 170.15h1.6M453.71 176.05h1.6" stroke="#4264da" stroke-width="1.2"/>
<path d="M462.48 171.15L466.03 175L462.48 178.85L458.93 175Z" fill="none" stroke="#4264da" stroke-width="1.05"/>
<path d="M460.68 175h3.6M462.48 173.2v3.6" stroke="#4264da" stroke-width="0.75" opacity="0.95"/>
<circle cx="462.48" cy="175" r="1.5" fill="none" stroke="#4264da" stroke-width="0.5" opacity="0.45"/>
<path d="M461.68 172.05h1.6M461.68 177.95h1.6" stroke="#4264da" stroke-width="1.2"/>
<path d="M472.22 168.55L475.77 172.4L472.22 176.25L468.67 172.4Z" fill="none" stroke="#4264da" stroke-width="1.05"/>
<path d="M470.42 172.4h3.6M472.22 170.6v3.6" stroke="#4264da" stroke-width="0.75" opacity="0.95"/>
<circle cx="472.22" cy="172.4" r="1.5" fill="none" stroke="#4264da" stroke-width="0.5" opacity="0.45"/>
<path d="M471.42 169.45h1.6M471.42 175.35h1.6" stroke="#4264da" stroke-width="1.2"/>
<path d="M480.19 172.45L483.74 176.3L480.19 180.15L476.64 176.3Z" fill="none" stroke="#4264da" stroke-width="1.05"/>
<path d="M478.39 176.3h3.6M480.19 174.5v3.6" stroke="#4264da" stroke-width="0.75" opacity="0.95"/>
<circle cx="480.19" cy="176.3" r="1.5" fill="none" stroke="#4264da" stroke-width="0.5" opacity="0.45"/>
<path d="M479.39 173.35h1.6M479.39 179.25h1.6" stroke="#4264da" stroke-width="1.2"/>
<path d="M489.04 166.05L492.59 169.9L489.04 173.75L485.49 169.9Z" fill="none" stroke="#4264da" stroke-width="1.05"/>
<path d="M487.24 169.9h3.6M489.04 168.1v3.6" stroke="#4264da" stroke-width="0.75" opacity="0.95"/>
<circle cx="489.04" cy="169.9" r="1.5" fill="none" stroke="#4264da" stroke-width="0.5" opacity="0.45"/>
<path d="M488.24 166.95h1.6M488.24 172.85h1.6" stroke="#4264da" stroke-width="1.2"/>
<path d="M498.78 161.75L502.33 165.6L498.78 169.45L495.23 165.6Z" fill="none" stroke="#4264da" stroke-width="1.05"/>
<path d="M496.98 165.6h3.6M498.78 163.8v3.6" stroke="#4264da" stroke-width="0.75" opacity="0.95"/>
<circle cx="498.78" cy="165.6" r="1.5" fill="none" stroke="#4264da" stroke-width="0.5" opacity="0.45"/>
<path d="M497.98 162.65h1.6M497.98 168.55h1.6" stroke="#4264da" stroke-width="1.2"/>
<path d="M507.64 161.35L511.19 165.2L507.64 169.05L504.09 165.2Z" fill="none" stroke="#4264da" stroke-width="1.05"/>
<path d="M505.84 165.2h3.6M507.64 163.4v3.6" stroke="#4264da" stroke-width="0.75" opacity="0.95"/>
<circle cx="507.64" cy="165.2" r="1.5" fill="none" stroke="#4264da" stroke-width="0.5" opacity="0.45"/>
<path d="M506.84 162.25h1.6M506.84 168.15h1.6" stroke="#4264da" stroke-width="1.2"/>
<path d="M515.61 158.75L519.16 162.6L515.61 166.45L512.06 162.6Z" fill="none" stroke="#4264da" stroke-width="1.05"/>
<path d="M513.81 162.6h3.6M515.61 160.8v3.6" stroke="#4264da" stroke-width="0.75" opacity="0.95"/>
<circle cx="515.61" cy="162.6" r="1.5" fill="none" stroke="#4264da" stroke-width="0.5" opacity="0.45"/>
<path d="M514.81 159.65h1.6M514.81 165.55h1.6" stroke="#4264da" stroke-width="1.2"/>
<path d="M524.46 162.65L528.01 166.5L524.46 170.35L520.91 166.5Z" fill="none" stroke="#4264da" stroke-width="1.05"/>
<path d="M522.66 166.5h3.6M524.46 164.7v3.6" stroke="#4264da" stroke-width="0.75" opacity="0.95"/>
<circle cx="524.46" cy="166.5" r="1.5" fill="none" stroke="#4264da" stroke-width="0.5" opacity="0.45"/>
<path d="M523.66 163.55h1.6M523.66 169.45h1.6" stroke="#4264da" stroke-width="1.2"/>
<path d="M533.32 154.85L536.87 158.7L533.32 162.55L529.77 158.7Z" fill="none" stroke="#4264da" stroke-width="1.05"/>
<path d="M531.52 158.7h3.6M533.32 156.9v3.6" stroke="#4264da" stroke-width="0.75" opacity="0.95"/>
<circle cx="533.32" cy="158.7" r="1.5" fill="none" stroke="#4264da" stroke-width="0.5" opacity="0.45"/>
<path d="M532.52 155.75h1.6M532.52 161.65h1.6" stroke="#4264da" stroke-width="1.2"/>
<path d="M542.17 151.65L545.72 155.5L542.17 159.35L538.62 155.5Z" fill="none" stroke="#4264da" stroke-width="1.05"/>
<path d="M540.37 155.5h3.6M542.17 153.7v3.6" stroke="#4264da" stroke-width="0.75" opacity="0.95"/>
<circle cx="542.17" cy="155.5" r="1.5" fill="none" stroke="#4264da" stroke-width="0.5" opacity="0.45"/>
<path d="M541.37 152.55h1.6M541.37 158.45h1.6" stroke="#4264da" stroke-width="1.2"/>
<path d="M551.91 147.55L555.46 151.4L551.91 155.25L548.36 151.4Z" fill="none" stroke="#4264da" stroke-width="1.05"/>
<path d="M550.11 151.4h3.6M551.91 149.6v3.6" stroke="#4264da" stroke-width="0.75" opacity="0.95"/>
<circle cx="551.91" cy="151.4" r="1.5" fill="none" stroke="#4264da" stroke-width="0.5" opacity="0.45"/>
<path d="M551.11 148.45h1.6M551.11 154.35h1.6" stroke="#4264da" stroke-width="1.2"/>
<path d="M559.88 160.85L563.43 164.7L559.88 168.55L556.33 164.7Z" fill="none" stroke="#4264da" stroke-width="1.05"/>
<path d="M558.08 164.7h3.6M559.88 162.9v3.6" stroke="#4264da" stroke-width="0.75" opacity="0.95"/>
<circle cx="559.88" cy="164.7" r="1.5" fill="none" stroke="#4264da" stroke-width="0.5" opacity="0.45"/>
<path d="M559.08 161.75h1.6M559.08 167.65h1.6" stroke="#4264da" stroke-width="1.2"/>
<path d="M568.74 131.45L572.29 135.3L568.74 139.15L565.19 135.3Z" fill="none" stroke="#4264da" stroke-width="1.05"/>
<path d="M566.94 135.3h3.6M568.74 133.5v3.6" stroke="#4264da" stroke-width="0.75" opacity="0.95"/>
<circle cx="568.74" cy="135.3" r="1.5" fill="none" stroke="#4264da" stroke-width="0.5" opacity="0.45"/>
<path d="M567.94 132.35h1.6M567.94 138.25h1.6" stroke="#4264da" stroke-width="1.2"/>
<path d="M577.59 128.25L581.14 132.1L577.59 135.95L574.04 132.1Z" fill="none" stroke="#4264da" stroke-width="1.05"/>
<path d="M575.79 132.1h3.6M577.59 130.3v3.6" stroke="#4264da" stroke-width="0.75" opacity="0.95"/>
<circle cx="577.59" cy="132.1" r="1.5" fill="none" stroke="#4264da" stroke-width="0.5" opacity="0.45"/>
<path d="M576.79 129.15h1.6M576.79 135.05h1.6" stroke="#4264da" stroke-width="1.2"/>
<path d="M586.45 61.95L590 65.8L586.45 69.65L582.9 65.8Z" fill="none" stroke="#4264da" stroke-width="1.05"/>
<path d="M584.65 65.8h3.6M586.45 64v3.6" stroke="#4264da" stroke-width="0.75" opacity="0.95"/>
<circle cx="586.45" cy="65.8" r="1.5" fill="none" stroke="#4264da" stroke-width="0.5" opacity="0.45"/>
<path d="M585.65 62.85h1.6M585.65 68.75h1.6" stroke="#4264da" stroke-width="1.2"/>
<path d="M595.3 86.05L598.85 89.9L595.3 93.75L591.75 89.9Z" fill="none" stroke="#4264da" stroke-width="1.05"/>
<path d="M593.5 89.9h3.6M595.3 88.1v3.6" stroke="#4264da" stroke-width="0.75" opacity="0.95"/>
<circle cx="595.3" cy="89.9" r="1.5" fill="none" stroke="#4264da" stroke-width="0.5" opacity="0.45"/>
<path d="M594.5 86.95h1.6M594.5 92.85h1.6" stroke="#4264da" stroke-width="1.2"/>
<path d="M604.16 92.95L607.71 96.8L604.16 100.65L600.61 96.8Z" fill="none" stroke="#4264da" stroke-width="1.05"/>
<path d="M602.36 96.8h3.6M604.16 95v3.6" stroke="#4264da" stroke-width="0.75" opacity="0.95"/>
<circle cx="604.16" cy="96.8" r="1.5" fill="none" stroke="#4264da" stroke-width="0.5" opacity="0.45"/>
<path d="M603.36 93.85h1.6M603.36 99.75h1.6" stroke="#4264da" stroke-width="1.2"/>
<path d="M613.9 101.45L617.45 105.3L613.9 109.15L610.35 105.3Z" fill="none" stroke="#4264da" stroke-width="1.05"/>
<path d="M612.1 105.3h3.6M613.9 103.5v3.6" stroke="#4264da" stroke-width="0.75" opacity="0.95"/>
<circle cx="613.9" cy="105.3" r="1.5" fill="none" stroke="#4264da" stroke-width="0.5" opacity="0.45"/>
<path d="M613.1 102.35h1.6M613.1 108.25h1.6" stroke="#4264da" stroke-width="1.2"/>
</g>
<text x="378.8" y="17" font-size="8.8" fill="#5a5a5a" text-anchor="start" textLength="13" lengthAdjust="spacingAndGlyphs">(b)</text>
<text x="397" y="17" font-size="8.8" fill="#5a5a5a" text-anchor="start" textLength="12.1" lengthAdjust="spacingAndGlyphs">GX</text>
<text x="414.6" y="17" font-size="8.8" fill="#5a5a5a" text-anchor="start" textLength="24.8" lengthAdjust="spacingAndGlyphs">17+2</text>
<path d="M379.4 25.2L386.4 32.2M379.4 32.2L386.4 25.2" stroke="#9c3838" stroke-width="1.0" opacity="0.85"/>
<path d="M379.4 28.7L386.4 28.7M382.9 25.2L382.9 32.2" stroke="#9c3838" stroke-width="0.85" opacity="0.65"/>
<circle cx="382.9" cy="28.7" r="1.0" fill="#7a1515"/>
<text x="391.6" y="30.8" font-size="8.8" fill="#5a5a5a" text-anchor="start" textLength="5.9" lengthAdjust="spacingAndGlyphs">Q</text>
<text x="398.4" y="33" font-size="5" fill="#5a5a5a" text-anchor="start" textLength="2.4" lengthAdjust="spacingAndGlyphs">1</text>
<path d="M382.9 36.95L386.45 40.8L382.9 44.65L379.35 40.8Z" fill="none" stroke="#6487ee" stroke-width="1.05"/>
<text x="391.6" y="42.9" font-size="8.8" fill="#5a5a5a" text-anchor="start" textLength="5.9" lengthAdjust="spacingAndGlyphs">Q</text>
<text x="398.4" y="45.1" font-size="5" fill="#5a5a5a" text-anchor="start" textLength="2.6" lengthAdjust="spacingAndGlyphs">2</text>
<text x="365.9" y="203.7" font-size="12.4" fill="#787878" text-anchor="end" textLength="7.5" lengthAdjust="spacingAndGlyphs">0</text>
<text x="365.9" y="167.5" font-size="12.4" fill="#787878" text-anchor="end" textLength="7.5" lengthAdjust="spacingAndGlyphs">5</text>
<text x="365.9" y="126.9" font-size="12.4" fill="#787878" text-anchor="end" textLength="15" lengthAdjust="spacingAndGlyphs">10</text>
<text x="365.9" y="86.3" font-size="12.4" fill="#787878" text-anchor="end" textLength="15" lengthAdjust="spacingAndGlyphs">15</text>
<text x="365.9" y="45.7" font-size="12.4" fill="#787878" text-anchor="end" textLength="15" lengthAdjust="spacingAndGlyphs">20</text>
<text x="365.9" y="8.3" font-size="12.4" fill="#787878" text-anchor="end" textLength="15" lengthAdjust="spacingAndGlyphs">25</text>
<text x="369" y="221" font-size="12.4" fill="#787878" text-anchor="middle" textLength="15.9" lengthAdjust="spacingAndGlyphs">−1</text>
<text x="457.83" y="221" font-size="12.4" fill="#787878" text-anchor="middle" textLength="8" lengthAdjust="spacingAndGlyphs">0</text>
<text x="546.17" y="221" font-size="12.4" fill="#787878" text-anchor="middle" textLength="8" lengthAdjust="spacingAndGlyphs">1</text>
<text x="634.5" y="221" font-size="12.4" fill="#787878" text-anchor="middle" textLength="8" lengthAdjust="spacingAndGlyphs">2</text>
<text x="501.3" y="235.4" font-size="11.8" fill="#787878" text-anchor="middle" textLength="14.6" lengthAdjust="spacingAndGlyphs">Sz</text>
<text transform="translate(340.8 142.6) rotate(-90)" font-size="11.8" fill="#787878" textLength="38.8" lengthAdjust="spacingAndGlyphs">Quality</text>
<text transform="translate(340.8 97.9) rotate(-90)" font-size="11.8" fill="#787878" textLength="36" lengthAdjust="spacingAndGlyphs">Factor</text>
<rect x="205.7" y="246" width="264.6" height="202.9" fill="none" stroke="#8a8a8a" stroke-width="1.1"/>
<line x1="205.7" y1="448.9" x2="205.7" y2="444.9" stroke="#8a8a8a" stroke-width="1"/>
<line x1="205.7" y1="246" x2="205.7" y2="250" stroke="#8a8a8a" stroke-width="1"/>
<line x1="216.72" y1="448.9" x2="216.72" y2="446.9" stroke="#8a8a8a" stroke-width="1"/>
<line x1="216.72" y1="246" x2="216.72" y2="248" stroke="#8a8a8a" stroke-width="1"/>
<line x1="227.75" y1="448.9" x2="227.75" y2="446.9" stroke="#8a8a8a" stroke-width="1"/>
<line x1="227.75" y1="246" x2="227.75" y2="248" stroke="#8a8a8a" stroke-width="1"/>
<line x1="238.77" y1="448.9" x2="238.77" y2="446.9" stroke="#8a8a8a" stroke-width="1"/>
<line x1="238.77" y1="246" x2="238.77" y2="248" stroke="#8a8a8a" stroke-width="1"/>
<line x1="249.8" y1="448.9" x2="249.8" y2="444.9" stroke="#8a8a8a" stroke-width="1"/>
<line x1="249.8" y1="246" x2="249.8" y2="250" stroke="#8a8a8a" stroke-width="1"/>
<line x1="260.82" y1="448.9" x2="260.82" y2="446.9" stroke="#8a8a8a" stroke-width="1"/>
<line x1="260.82" y1="246" x2="260.82" y2="248" stroke="#8a8a8a" stroke-width="1"/>
<line x1="271.85" y1="448.9" x2="271.85" y2="446.9" stroke="#8a8a8a" stroke-width="1"/>
<line x1="271.85" y1="246" x2="271.85" y2="248" stroke="#8a8a8a" stroke-width="1"/>
<line x1="282.88" y1="448.9" x2="282.88" y2="446.9" stroke="#8a8a8a" stroke-width="1"/>
<line x1="282.88" y1="246" x2="282.88" y2="248" stroke="#8a8a8a" stroke-width="1"/>
<line x1="293.9" y1="448.9" x2="293.9" y2="444.9" stroke="#8a8a8a" stroke-width="1"/>
<line x1="293.9" y1="246" x2="293.9" y2="250" stroke="#8a8a8a" stroke-width="1"/>
<line x1="304.93" y1="448.9" x2="304.93" y2="446.9" stroke="#8a8a8a" stroke-width="1"/>
<line x1="304.93" y1="246" x2="304.93" y2="248" stroke="#8a8a8a" stroke-width="1"/>
<line x1="315.95" y1="448.9" x2="315.95" y2="446.9" stroke="#8a8a8a" stroke-width="1"/>
<line x1="315.95" y1="246" x2="315.95" y2="248" stroke="#8a8a8a" stroke-width="1"/>
<line x1="326.98" y1="448.9" x2="326.98" y2="446.9" stroke="#8a8a8a" stroke-width="1"/>
<line x1="326.98" y1="246" x2="326.98" y2="248" stroke="#8a8a8a" stroke-width="1"/>
<line x1="338" y1="448.9" x2="338" y2="444.9" stroke="#8a8a8a" stroke-width="1"/>
<line x1="338" y1="246" x2="338" y2="250" stroke="#8a8a8a" stroke-width="1"/>
<line x1="349.02" y1="448.9" x2="349.02" y2="446.9" stroke="#8a8a8a" stroke-width="1"/>
<line x1="349.02" y1="246" x2="349.02" y2="248" stroke="#8a8a8a" stroke-width="1"/>
<line x1="360.05" y1="448.9" x2="360.05" y2="446.9" stroke="#8a8a8a" stroke-width="1"/>
<line x1="360.05" y1="246" x2="360.05" y2="248" stroke="#8a8a8a" stroke-width="1"/>
<line x1="371.07" y1="448.9" x2="371.07" y2="446.9" stroke="#8a8a8a" stroke-width="1"/>
<line x1="371.07" y1="246" x2="371.07" y2="248" stroke="#8a8a8a" stroke-width="1"/>
<line x1="382.1" y1="448.9" x2="382.1" y2="444.9" stroke="#8a8a8a" stroke-width="1"/>
<line x1="382.1" y1="246" x2="382.1" y2="250" stroke="#8a8a8a" stroke-width="1"/>
<line x1="393.12" y1="448.9" x2="393.12" y2="446.9" stroke="#8a8a8a" stroke-width="1"/>
<line x1="393.12" y1="246" x2="393.12" y2="248" stroke="#8a8a8a" stroke-width="1"/>
<line x1="404.15" y1="448.9" x2="404.15" y2="446.9" stroke="#8a8a8a" stroke-width="1"/>
<line x1="404.15" y1="246" x2="404.15" y2="248" stroke="#8a8a8a" stroke-width="1"/>
<line x1="415.17" y1="448.9" x2="415.17" y2="446.9" stroke="#8a8a8a" stroke-width="1"/>
<line x1="415.17" y1="246" x2="415.17" y2="248" stroke="#8a8a8a" stroke-width="1"/>
<line x1="426.2" y1="448.9" x2="426.2" y2="444.9" stroke="#8a8a8a" stroke-width="1"/>
<line x1="426.2" y1="246" x2="426.2" y2="250" stroke="#8a8a8a" stroke-width="1"/>
<line x1="437.23" y1="448.9" x2="437.23" y2="446.9" stroke="#8a8a8a" stroke-width="1"/>
<line x1="437.23" y1="246" x2="437.23" y2="248" stroke="#8a8a8a" stroke-width="1"/>
<line x1="448.25" y1="448.9" x2="448.25" y2="446.9" stroke="#8a8a8a" stroke-width="1"/>
<line x1="448.25" y1="246" x2="448.25" y2="248" stroke="#8a8a8a" stroke-width="1"/>
<line x1="459.28" y1="448.9" x2="459.28" y2="446.9" stroke="#8a8a8a" stroke-width="1"/>
<line x1="459.28" y1="246" x2="459.28" y2="248" stroke="#8a8a8a" stroke-width="1"/>
<line x1="470.3" y1="448.9" x2="470.3" y2="444.9" stroke="#8a8a8a" stroke-width="1"/>
<line x1="470.3" y1="246" x2="470.3" y2="250" stroke="#8a8a8a" stroke-width="1"/>
<line x1="205.7" y1="448.9" x2="211" y2="448.9" stroke="#8a8a8a" stroke-width="1"/>
<line x1="470.3" y1="448.9" x2="465" y2="448.9" stroke="#8a8a8a" stroke-width="1"/>
<line x1="205.7" y1="440.78" x2="208.35" y2="440.78" stroke="#8a8a8a" stroke-width="1"/>
<line x1="470.3" y1="440.78" x2="467.65" y2="440.78" stroke="#8a8a8a" stroke-width="1"/>
<line x1="205.7" y1="432.67" x2="208.35" y2="432.67" stroke="#8a8a8a" stroke-width="1"/>
<line x1="470.3" y1="432.67" x2="467.65" y2="432.67" stroke="#8a8a8a" stroke-width="1"/>
<line x1="205.7" y1="424.55" x2="208.35" y2="424.55" stroke="#8a8a8a" stroke-width="1"/>
<line x1="470.3" y1="424.55" x2="467.65" y2="424.55" stroke="#8a8a8a" stroke-width="1"/>
<line x1="205.7" y1="416.44" x2="208.35" y2="416.44" stroke="#8a8a8a" stroke-width="1"/>
<line x1="470.3" y1="416.44" x2="467.65" y2="416.44" stroke="#8a8a8a" stroke-width="1"/>
<line x1="205.7" y1="408.32" x2="211" y2="408.32" stroke="#8a8a8a" stroke-width="1"/>
<line x1="470.3" y1="408.32" x2="465" y2="408.32" stroke="#8a8a8a" stroke-width="1"/>
<line x1="205.7" y1="400.2" x2="208.35" y2="400.2" stroke="#8a8a8a" stroke-width="1"/>
<line x1="470.3" y1="400.2" x2="467.65" y2="400.2" stroke="#8a8a8a" stroke-width="1"/>
<line x1="205.7" y1="392.09" x2="208.35" y2="392.09" stroke="#8a8a8a" stroke-width="1"/>
<line x1="470.3" y1="392.09" x2="467.65" y2="392.09" stroke="#8a8a8a" stroke-width="1"/>
<line x1="205.7" y1="383.97" x2="208.35" y2="383.97" stroke="#8a8a8a" stroke-width="1"/>
<line x1="470.3" y1="383.97" x2="467.65" y2="383.97" stroke="#8a8a8a" stroke-width="1"/>
<line x1="205.7" y1="375.86" x2="208.35" y2="375.86" stroke="#8a8a8a" stroke-width="1"/>
<line x1="470.3" y1="375.86" x2="467.65" y2="375.86" stroke="#8a8a8a" stroke-width="1"/>
<line x1="205.7" y1="367.74" x2="211" y2="367.74" stroke="#8a8a8a" stroke-width="1"/>
<line x1="470.3" y1="367.74" x2="465" y2="367.74" stroke="#8a8a8a" stroke-width="1"/>
<line x1="205.7" y1="359.62" x2="208.35" y2="359.62" stroke="#8a8a8a" stroke-width="1"/>
<line x1="470.3" y1="359.62" x2="467.65" y2="359.62" stroke="#8a8a8a" stroke-width="1"/>
<line x1="205.7" y1="351.51" x2="208.35" y2="351.51" stroke="#8a8a8a" stroke-width="1"/>
<line x1="470.3" y1="351.51" x2="467.65" y2="351.51" stroke="#8a8a8a" stroke-width="1"/>
<line x1="205.7" y1="343.39" x2="208.35" y2="343.39" stroke="#8a8a8a" stroke-width="1"/>
<line x1="470.3" y1="343.39" x2="467.65" y2="343.39" stroke="#8a8a8a" stroke-width="1"/>
<line x1="205.7" y1="335.28" x2="208.35" y2="335.28" stroke="#8a8a8a" stroke-width="1"/>
<line x1="470.3" y1="335.28" x2="467.65" y2="335.28" stroke="#8a8a8a" stroke-width="1"/>
<line x1="205.7" y1="327.16" x2="211" y2="327.16" stroke="#8a8a8a" stroke-width="1"/>
<line x1="470.3" y1="327.16" x2="465" y2="327.16" stroke="#8a8a8a" stroke-width="1"/>
<line x1="205.7" y1="319.04" x2="208.35" y2="319.04" stroke="#8a8a8a" stroke-width="1"/>
<line x1="470.3" y1="319.04" x2="467.65" y2="319.04" stroke="#8a8a8a" stroke-width="1"/>
<line x1="205.7" y1="310.93" x2="208.35" y2="310.93" stroke="#8a8a8a" stroke-width="1"/>
<line x1="470.3" y1="310.93" x2="467.65" y2="310.93" stroke="#8a8a8a" stroke-width="1"/>
<line x1="205.7" y1="302.81" x2="208.35" y2="302.81" stroke="#8a8a8a" stroke-width="1"/>
<line x1="470.3" y1="302.81" x2="467.65" y2="302.81" stroke="#8a8a8a" stroke-width="1"/>
<line x1="205.7" y1="294.7" x2="208.35" y2="294.7" stroke="#8a8a8a" stroke-width="1"/>
<line x1="470.3" y1="294.7" x2="467.65" y2="294.7" stroke="#8a8a8a" stroke-width="1"/>
<line x1="205.7" y1="286.58" x2="211" y2="286.58" stroke="#8a8a8a" stroke-width="1"/>
<line x1="470.3" y1="286.58" x2="465" y2="286.58" stroke="#8a8a8a" stroke-width="1"/>
<line x1="205.7" y1="278.46" x2="208.35" y2="278.46" stroke="#8a8a8a" stroke-width="1"/>
<line x1="470.3" y1="278.46" x2="467.65" y2="278.46" stroke="#8a8a8a" stroke-width="1"/>
<line x1="205.7" y1="270.35" x2="208.35" y2="270.35" stroke="#8a8a8a" stroke-width="1"/>
<line x1="470.3" y1="270.35" x2="467.65" y2="270.35" stroke="#8a8a8a" stroke-width="1"/>
<line x1="205.7" y1="262.23" x2="208.35" y2="262.23" stroke="#8a8a8a" stroke-width="1"/>
<line x1="470.3" y1="262.23" x2="467.65" y2="262.23" stroke="#8a8a8a" stroke-width="1"/>
<line x1="205.7" y1="254.12" x2="208.35" y2="254.12" stroke="#8a8a8a" stroke-width="1"/>
<line x1="470.3" y1="254.12" x2="467.65" y2="254.12" stroke="#8a8a8a" stroke-width="1"/>
<line x1="205.7" y1="246" x2="211" y2="246" stroke="#8a8a8a" stroke-width="1"/>
<line x1="470.3" y1="246" x2="465" y2="246" stroke="#8a8a8a" stroke-width="1"/>
<rect x="262.2" y="246" width="34.5" height="202.9" fill="#dcdcdc"/>
<rect x="296.7" y="246" width="133.1" height="202.9" fill="#b5b5b5"/>
<rect x="205.7" y="246" width="264.6" height="202.9" fill="none" stroke="#8a8a8a" stroke-width="1.1"/>
<line x1="205.7" y1="448.9" x2="205.7" y2="447.3" stroke="#707070" stroke-width="1"/>
<line x1="205.7" y1="246" x2="205.7" y2="247.6" stroke="#707070" stroke-width="1"/>
<line x1="216.72" y1="448.9" x2="216.72" y2="447.3" stroke="#707070" stroke-width="1"/>
<line x1="216.72" y1="246" x2="216.72" y2="247.6" stroke="#707070" stroke-width="1"/>
<line x1="227.75" y1="448.9" x2="227.75" y2="447.3" stroke="#707070" stroke-width="1"/>
<line x1="227.75" y1="246" x2="227.75" y2="247.6" stroke="#707070" stroke-width="1"/>
<line x1="238.77" y1="448.9" x2="238.77" y2="447.3" stroke="#707070" stroke-width="1"/>
<line x1="238.77" y1="246" x2="238.77" y2="247.6" stroke="#707070" stroke-width="1"/>
<line x1="249.8" y1="448.9" x2="249.8" y2="447.3" stroke="#707070" stroke-width="1"/>
<line x1="249.8" y1="246" x2="249.8" y2="247.6" stroke="#707070" stroke-width="1"/>
<line x1="260.82" y1="448.9" x2="260.82" y2="447.3" stroke="#707070" stroke-width="1"/>
<line x1="260.82" y1="246" x2="260.82" y2="247.6" stroke="#707070" stroke-width="1"/>
<line x1="271.85" y1="448.9" x2="271.85" y2="447.3" stroke="#707070" stroke-width="1"/>
<line x1="271.85" y1="246" x2="271.85" y2="247.6" stroke="#707070" stroke-width="1"/>
<line x1="282.88" y1="448.9" x2="282.88" y2="447.3" stroke="#707070" stroke-width="1"/>
<line x1="282.88" y1="246" x2="282.88" y2="247.6" stroke="#707070" stroke-width="1"/>
<line x1="293.9" y1="448.9" x2="293.9" y2="447.3" stroke="#707070" stroke-width="1"/>
<line x1="293.9" y1="246" x2="293.9" y2="247.6" stroke="#707070" stroke-width="1"/>
<line x1="304.93" y1="448.9" x2="304.93" y2="447.3" stroke="#707070" stroke-width="1"/>
<line x1="304.93" y1="246" x2="304.93" y2="247.6" stroke="#707070" stroke-width="1"/>
<line x1="315.95" y1="448.9" x2="315.95" y2="447.3" stroke="#707070" stroke-width="1"/>
<line x1="315.95" y1="246" x2="315.95" y2="247.6" stroke="#707070" stroke-width="1"/>
<line x1="326.98" y1="448.9" x2="326.98" y2="447.3" stroke="#707070" stroke-width="1"/>
<line x1="326.98" y1="246" x2="326.98" y2="247.6" stroke="#707070" stroke-width="1"/>
<line x1="338" y1="448.9" x2="338" y2="447.3" stroke="#707070" stroke-width="1"/>
<line x1="338" y1="246" x2="338" y2="247.6" stroke="#707070" stroke-width="1"/>
<line x1="349.02" y1="448.9" x2="349.02" y2="447.3" stroke="#707070" stroke-width="1"/>
<line x1="349.02" y1="246" x2="349.02" y2="247.6" stroke="#707070" stroke-width="1"/>
<line x1="360.05" y1="448.9" x2="360.05" y2="447.3" stroke="#707070" stroke-width="1"/>
<line x1="360.05" y1="246" x2="360.05" y2="247.6" stroke="#707070" stroke-width="1"/>
<line x1="371.07" y1="448.9" x2="371.07" y2="447.3" stroke="#707070" stroke-width="1"/>
<line x1="371.07" y1="246" x2="371.07" y2="247.6" stroke="#707070" stroke-width="1"/>
<line x1="382.1" y1="448.9" x2="382.1" y2="447.3" stroke="#707070" stroke-width="1"/>
<line x1="382.1" y1="246" x2="382.1" y2="247.6" stroke="#707070" stroke-width="1"/>
<line x1="393.12" y1="448.9" x2="393.12" y2="447.3" stroke="#707070" stroke-width="1"/>
<line x1="393.12" y1="246" x2="393.12" y2="247.6" stroke="#707070" stroke-width="1"/>
<line x1="404.15" y1="448.9" x2="404.15" y2="447.3" stroke="#707070" stroke-width="1"/>
<line x1="404.15" y1="246" x2="404.15" y2="247.6" stroke="#707070" stroke-width="1"/>
<line x1="415.17" y1="448.9" x2="415.17" y2="447.3" stroke="#707070" stroke-width="1"/>
<line x1="415.17" y1="246" x2="415.17" y2="247.6" stroke="#707070" stroke-width="1"/>
<line x1="426.2" y1="448.9" x2="426.2" y2="447.3" stroke="#707070" stroke-width="1"/>
<line x1="426.2" y1="246" x2="426.2" y2="247.6" stroke="#707070" stroke-width="1"/>
<line x1="437.23" y1="448.9" x2="437.23" y2="447.3" stroke="#707070" stroke-width="1"/>
<line x1="437.23" y1="246" x2="437.23" y2="247.6" stroke="#707070" stroke-width="1"/>
<line x1="448.25" y1="448.9" x2="448.25" y2="447.3" stroke="#707070" stroke-width="1"/>
<line x1="448.25" y1="246" x2="448.25" y2="247.6" stroke="#707070" stroke-width="1"/>
<line x1="459.28" y1="448.9" x2="459.28" y2="447.3" stroke="#707070" stroke-width="1"/>
<line x1="459.28" y1="246" x2="459.28" y2="247.6" stroke="#707070" stroke-width="1"/>
<line x1="470.3" y1="448.9" x2="470.3" y2="447.3" stroke="#707070" stroke-width="1"/>
<line x1="470.3" y1="246" x2="470.3" y2="247.6" stroke="#707070" stroke-width="1"/>
<line x1="205.7" y1="448.9" x2="207.3" y2="448.9" stroke="#707070" stroke-width="1"/>
<line x1="470.3" y1="448.9" x2="468.7" y2="448.9" stroke="#707070" stroke-width="1"/>
<line x1="205.7" y1="440.78" x2="207.3" y2="440.78" stroke="#707070" stroke-width="1"/>
<line x1="470.3" y1="440.78" x2="468.7" y2="440.78" stroke="#707070" stroke-width="1"/>
<line x1="205.7" y1="432.67" x2="207.3" y2="432.67" stroke="#707070" stroke-width="1"/>
<line x1="470.3" y1="432.67" x2="468.7" y2="432.67" stroke="#707070" stroke-width="1"/>
<line x1="205.7" y1="424.55" x2="207.3" y2="424.55" stroke="#707070" stroke-width="1"/>
<line x1="470.3" y1="424.55" x2="468.7" y2="424.55" stroke="#707070" stroke-width="1"/>
<line x1="205.7" y1="416.44" x2="207.3" y2="416.44" stroke="#707070" stroke-width="1"/>
<line x1="470.3" y1="416.44" x2="468.7" y2="416.44" stroke="#707070" stroke-width="1"/>
<line x1="205.7" y1="408.32" x2="207.3" y2="408.32" stroke="#707070" stroke-width="1"/>
<line x1="470.3" y1="408.32" x2="468.7" y2="408.32" stroke="#707070" stroke-width="1"/>
<line x1="205.7" y1="400.2" x2="207.3" y2="400.2" stroke="#707070" stroke-width="1"/>
<line x1="470.3" y1="400.2" x2="468.7" y2="400.2" stroke="#707070" stroke-width="1"/>
<line x1="205.7" y1="392.09" x2="207.3" y2="392.09" stroke="#707070" stroke-width="1"/>
<line x1="470.3" y1="392.09" x2="468.7" y2="392.09" stroke="#707070" stroke-width="1"/>
<line x1="205.7" y1="383.97" x2="207.3" y2="383.97" stroke="#707070" stroke-width="1"/>
<line x1="470.3" y1="383.97" x2="468.7" y2="383.97" stroke="#707070" stroke-width="1"/>
<line x1="205.7" y1="375.86" x2="207.3" y2="375.86" stroke="#707070" stroke-width="1"/>
<line x1="470.3" y1="375.86" x2="468.7" y2="375.86" stroke="#707070" stroke-width="1"/>
<line x1="205.7" y1="367.74" x2="207.3" y2="367.74" stroke="#707070" stroke-width="1"/>
<line x1="470.3" y1="367.74" x2="468.7" y2="367.74" stroke="#707070" stroke-width="1"/>
<line x1="205.7" y1="359.62" x2="207.3" y2="359.62" stroke="#707070" stroke-width="1"/>
<line x1="470.3" y1="359.62" x2="468.7" y2="359.62" stroke="#707070" stroke-width="1"/>
<line x1="205.7" y1="351.51" x2="207.3" y2="351.51" stroke="#707070" stroke-width="1"/>
<line x1="470.3" y1="351.51" x2="468.7" y2="351.51" stroke="#707070" stroke-width="1"/>
<line x1="205.7" y1="343.39" x2="207.3" y2="343.39" stroke="#707070" stroke-width="1"/>
<line x1="470.3" y1="343.39" x2="468.7" y2="343.39" stroke="#707070" stroke-width="1"/>
<line x1="205.7" y1="335.28" x2="207.3" y2="335.28" stroke="#707070" stroke-width="1"/>
<line x1="470.3" y1="335.28" x2="468.7" y2="335.28" stroke="#707070" stroke-width="1"/>
<line x1="205.7" y1="327.16" x2="207.3" y2="327.16" stroke="#707070" stroke-width="1"/>
<line x1="470.3" y1="327.16" x2="468.7" y2="327.16" stroke="#707070" stroke-width="1"/>
<line x1="205.7" y1="319.04" x2="207.3" y2="319.04" stroke="#707070" stroke-width="1"/>
<line x1="470.3" y1="319.04" x2="468.7" y2="319.04" stroke="#707070" stroke-width="1"/>
<line x1="205.7" y1="310.93" x2="207.3" y2="310.93" stroke="#707070" stroke-width="1"/>
<line x1="470.3" y1="310.93" x2="468.7" y2="310.93" stroke="#707070" stroke-width="1"/>
<line x1="205.7" y1="302.81" x2="207.3" y2="302.81" stroke="#707070" stroke-width="1"/>
<line x1="470.3" y1="302.81" x2="468.7" y2="302.81" stroke="#707070" stroke-width="1"/>
<line x1="205.7" y1="294.7" x2="207.3" y2="294.7" stroke="#707070" stroke-width="1"/>
<line x1="470.3" y1="294.7" x2="468.7" y2="294.7" stroke="#707070" stroke-width="1"/>
<line x1="205.7" y1="286.58" x2="207.3" y2="286.58" stroke="#707070" stroke-width="1"/>
<line x1="470.3" y1="286.58" x2="468.7" y2="286.58" stroke="#707070" stroke-width="1"/>
<line x1="205.7" y1="278.46" x2="207.3" y2="278.46" stroke="#707070" stroke-width="1"/>
<line x1="470.3" y1="278.46" x2="468.7" y2="278.46" stroke="#707070" stroke-width="1"/>
<line x1="205.7" y1="270.35" x2="207.3" y2="270.35" stroke="#707070" stroke-width="1"/>
<line x1="470.3" y1="270.35" x2="468.7" y2="270.35" stroke="#707070" stroke-width="1"/>
<line x1="205.7" y1="262.23" x2="207.3" y2="262.23" stroke="#707070" stroke-width="1"/>
<line x1="470.3" y1="262.23" x2="468.7" y2="262.23" stroke="#707070" stroke-width="1"/>
<line x1="205.7" y1="254.12" x2="207.3" y2="254.12" stroke="#707070" stroke-width="1"/>
<line x1="470.3" y1="254.12" x2="468.7" y2="254.12" stroke="#707070" stroke-width="1"/>
<line x1="205.7" y1="246" x2="207.3" y2="246" stroke="#707070" stroke-width="1"/>
<line x1="470.3" y1="246" x2="468.7" y2="246" stroke="#707070" stroke-width="1"/>
<text x="262.9" y="275" font-size="8.6" fill="#5a5a5a" text-anchor="start" textLength="32.1" lengthAdjust="spacingAndGlyphs">Normal</text>
<text x="262.9" y="289.1" font-size="8.6" fill="#5a5a5a" text-anchor="start" textLength="31.6" lengthAdjust="spacingAndGlyphs">Branch</text>
<text x="315.1" y="275.1" font-size="8.8" fill="#5a5a5a" text-anchor="start" textLength="46" lengthAdjust="spacingAndGlyphs">Horizontal</text>
<text x="366.6" y="275.1" font-size="8.8" fill="#5a5a5a" text-anchor="start" textLength="32.5" lengthAdjust="spacingAndGlyphs">Branch</text>
<g clip-path="url(#cc)">
<line x1="353.04" y1="409.7" x2="353.04" y2="431.3" stroke="#b97474" stroke-width="1"/>
<line x1="344.07" y1="408.2" x2="344.07" y2="429.4" stroke="#b97474" stroke-width="1"/>
<line x1="336.96" y1="363.8" x2="336.96" y2="433.8" stroke="#b97474" stroke-width="1"/>
<line x1="328.11" y1="383" x2="328.11" y2="397.6" stroke="#b97474" stroke-width="1"/>
<line x1="306.92" y1="389" x2="306.92" y2="390.8" stroke="#b97474" stroke-width="1"/>
<line x1="306.92" y1="412.2" x2="306.92" y2="414" stroke="#b97474" stroke-width="1"/>
<line x1="296.57" y1="407.6" x2="296.57" y2="418.6" stroke="#b97474" stroke-width="1"/>
<line x1="295.57" y1="375" x2="295.57" y2="396.8" stroke="#b97474" stroke-width="1"/>
<line x1="275" y1="375.2" x2="275" y2="411.2" stroke="#b97474" stroke-width="1"/>
<line x1="267.89" y1="383.8" x2="267.89" y2="427.1" stroke="#b97474" stroke-width="1"/>
<line x1="416.63" y1="376.6" x2="416.63" y2="448" stroke="#7389dc" stroke-width="1"/>
<line x1="418.99" y1="374" x2="418.99" y2="421.6" stroke="#7389dc" stroke-width="1"/>
<line x1="429.22" y1="413.7" x2="429.22" y2="432.9" stroke="#7389dc" stroke-width="1"/>
<line x1="328.11" y1="397.6" x2="328.11" y2="411.8" stroke="#7389dc" stroke-width="1"/>
<line x1="306.92" y1="390.8" x2="306.92" y2="412.2" stroke="#7389dc" stroke-width="1"/>
<line x1="296.57" y1="387.2" x2="296.57" y2="407.6" stroke="#7389dc" stroke-width="1"/>
<line x1="295.57" y1="401.3" x2="295.57" y2="420.2" stroke="#7389dc" stroke-width="1"/>
<line x1="290.58" y1="352.6" x2="290.58" y2="410.4" stroke="#7389dc" stroke-width="1"/>
<line x1="280.36" y1="312.2" x2="280.36" y2="444" stroke="#7389dc" stroke-width="1"/>
<line x1="275" y1="248.5" x2="275" y2="375.2" stroke="#7389dc" stroke-width="1"/>
<line x1="267.89" y1="288.4" x2="267.89" y2="383.8" stroke="#7389dc" stroke-width="1"/>
<line x1="262.78" y1="258.4" x2="262.78" y2="427.2" stroke="#7389dc" stroke-width="1"/>
<path d="M358.15 416.6L365.15 423.6M358.15 423.6L365.15 416.6" stroke="#9c3838" stroke-width="1.0" opacity="0.85"/>
<path d="M358.15 420.1L365.15 420.1M361.65 416.6L361.65 423.6" stroke="#9c3838" stroke-width="0.85" opacity="0.65"/>
<circle cx="361.65" cy="420.1" r="1.0" fill="#7a1515"/>
<path d="M349.54 417L356.54 424M349.54 424L356.54 417" stroke="#9c3838" stroke-width="1.0" opacity="0.85"/>
<path d="M349.54 420.5L356.54 420.5M353.04 417L353.04 424" stroke="#9c3838" stroke-width="0.85" opacity="0.65"/>
<circle cx="353.04" cy="420.5" r="1.0" fill="#7a1515"/>
<path d="M340.57 415.3L347.57 422.3M340.57 422.3L347.57 415.3" stroke="#9c3838" stroke-width="1.0" opacity="0.85"/>
<path d="M340.57 418.8L347.57 418.8M344.07 415.3L344.07 422.3" stroke="#9c3838" stroke-width="0.85" opacity="0.65"/>
<circle cx="344.07" cy="418.8" r="1.0" fill="#7a1515"/>
<path d="M333.46 395.3L340.46 402.3M333.46 402.3L340.46 395.3" stroke="#9c3838" stroke-width="1.0" opacity="0.85"/>
<path d="M333.46 398.8L340.46 398.8M336.96 395.3L336.96 402.3" stroke="#9c3838" stroke-width="0.85" opacity="0.65"/>
<circle cx="336.96" cy="398.8" r="1.0" fill="#7a1515"/>
<path d="M324.61 393.8L331.61 400.8M324.61 400.8L331.61 393.8" stroke="#9c3838" stroke-width="1.0" opacity="0.85"/>
<path d="M324.61 397.3L331.61 397.3M328.11 393.8L328.11 400.8" stroke="#9c3838" stroke-width="0.85" opacity="0.65"/>
<circle cx="328.11" cy="397.3" r="1.0" fill="#7a1515"/>
<path d="M303.42 398L310.42 405M303.42 405L310.42 398" stroke="#9c3838" stroke-width="1.0" opacity="0.85"/>
<path d="M303.42 401.5L310.42 401.5M306.92 398L306.92 405" stroke="#9c3838" stroke-width="0.85" opacity="0.65"/>
<circle cx="306.92" cy="401.5" r="1.0" fill="#7a1515"/>
<path d="M293.07 409.3L300.07 416.3M293.07 416.3L300.07 409.3" stroke="#9c3838" stroke-width="1.0" opacity="0.85"/>
<path d="M293.07 412.8L300.07 412.8M296.57 409.3L296.57 416.3" stroke="#9c3838" stroke-width="0.85" opacity="0.65"/>
<circle cx="296.57" cy="412.8" r="1.0" fill="#7a1515"/>
<path d="M292.07 382.3L299.07 389.3M292.07 389.3L299.07 382.3" stroke="#9c3838" stroke-width="1.0" opacity="0.85"/>
<path d="M292.07 385.8L299.07 385.8M295.57 382.3L295.57 389.3" stroke="#9c3838" stroke-width="0.85" opacity="0.65"/>
<circle cx="295.57" cy="385.8" r="1.0" fill="#7a1515"/>
<path d="M287.08 394.3L294.08 401.3M287.08 401.3L294.08 394.3" stroke="#9c3838" stroke-width="1.0" opacity="0.85"/>
<path d="M287.08 397.8L294.08 397.8M290.58 394.3L290.58 401.3" stroke="#9c3838" stroke-width="0.85" opacity="0.65"/>
<circle cx="290.58" cy="397.8" r="1.0" fill="#7a1515"/>
<path d="M276.86 354.7L283.86 361.7M276.86 361.7L283.86 354.7" stroke="#9c3838" stroke-width="1.0" opacity="0.85"/>
<path d="M276.86 358.2L283.86 358.2M280.36 354.7L280.36 361.7" stroke="#9c3838" stroke-width="0.85" opacity="0.65"/>
<circle cx="280.36" cy="358.2" r="1.0" fill="#7a1515"/>
<path d="M271.5 380L278.5 387M271.5 387L278.5 380" stroke="#9c3838" stroke-width="1.0" opacity="0.85"/>
<path d="M271.5 383.5L278.5 383.5M275 380L275 387" stroke="#9c3838" stroke-width="0.85" opacity="0.65"/>
<circle cx="275" cy="383.5" r="1.0" fill="#7a1515"/>
<path d="M264.39 361.6L271.39 368.6M264.39 368.6L271.39 361.6" stroke="#9c3838" stroke-width="1.0" opacity="0.85"/>
<path d="M264.39 365.1L271.39 365.1M267.89 361.6L267.89 368.6" stroke="#9c3838" stroke-width="0.85" opacity="0.65"/>
<circle cx="267.89" cy="365.1" r="1.0" fill="#7a1515"/>
<path d="M416.63 408.45L420.18 412.3L416.63 416.15L413.08 412.3Z" fill="none" stroke="#4264da" stroke-width="1.05"/>
<path d="M414.83 412.3h3.6M416.63 410.5v3.6" stroke="#4264da" stroke-width="0.75" opacity="0.95"/>
<circle cx="416.63" cy="412.3" r="1.5" fill="none" stroke="#4264da" stroke-width="0.5" opacity="0.45"/>
<path d="M415.83 409.35h1.6M415.83 415.25h1.6" stroke="#4264da" stroke-width="1.2"/>
<path d="M418.99 393.95L422.54 397.8L418.99 401.65L415.44 397.8Z" fill="none" stroke="#4264da" stroke-width="1.05"/>
<path d="M417.19 397.8h3.6M418.99 396v3.6" stroke="#4264da" stroke-width="0.75" opacity="0.95"/>
<circle cx="418.99" cy="397.8" r="1.5" fill="none" stroke="#4264da" stroke-width="0.5" opacity="0.45"/>
<path d="M418.19 394.85h1.6M418.19 400.75h1.6" stroke="#4264da" stroke-width="1.2"/>
<path d="M429.22 419.45L432.77 423.3L429.22 427.15L425.67 423.3Z" fill="none" stroke="#4264da" stroke-width="1.05"/>
<path d="M427.42 423.3h3.6M429.22 421.5v3.6" stroke="#4264da" stroke-width="0.75" opacity="0.95"/>
<circle cx="429.22" cy="423.3" r="1.5" fill="none" stroke="#4264da" stroke-width="0.5" opacity="0.45"/>
<path d="M428.42 420.35h1.6M428.42 426.25h1.6" stroke="#4264da" stroke-width="1.2"/>
<path d="M411.76 415.25L415.31 419.1L411.76 422.95L408.21 419.1Z" fill="none" stroke="#4264da" stroke-width="1.05"/>
<path d="M409.96 419.1h3.6M411.76 417.3v3.6" stroke="#4264da" stroke-width="0.75" opacity="0.95"/>
<circle cx="411.76" cy="419.1" r="1.5" fill="none" stroke="#4264da" stroke-width="0.5" opacity="0.45"/>
<path d="M410.96 416.15h1.6M410.96 422.05h1.6" stroke="#4264da" stroke-width="1.2"/>
<path d="M405.41 417.15L408.96 421L405.41 424.85L401.86 421Z" fill="none" stroke="#4264da" stroke-width="1.05"/>
<path d="M403.61 421h3.6M405.41 419.2v3.6" stroke="#4264da" stroke-width="0.75" opacity="0.95"/>
<circle cx="405.41" cy="421" r="1.5" fill="none" stroke="#4264da" stroke-width="0.5" opacity="0.45"/>
<path d="M404.61 418.05h1.6M404.61 423.95h1.6" stroke="#4264da" stroke-width="1.2"/>
<path d="M397.55 414.55L401.1 418.4L397.55 422.25L394 418.4Z" fill="none" stroke="#4264da" stroke-width="1.05"/>
<path d="M395.75 418.4h3.6M397.55 416.6v3.6" stroke="#4264da" stroke-width="0.75" opacity="0.95"/>
<circle cx="397.55" cy="418.4" r="1.5" fill="none" stroke="#4264da" stroke-width="0.5" opacity="0.45"/>
<path d="M396.75 415.45h1.6M396.75 421.35h1.6" stroke="#4264da" stroke-width="1.2"/>
<path d="M392.31 418.45L395.86 422.3L392.31 426.15L388.76 422.3Z" fill="none" stroke="#4264da" stroke-width="1.05"/>
<path d="M390.51 422.3h3.6M392.31 420.5v3.6" stroke="#4264da" stroke-width="0.75" opacity="0.95"/>
<circle cx="392.31" cy="422.3" r="1.5" fill="none" stroke="#4264da" stroke-width="0.5" opacity="0.45"/>
<path d="M391.51 419.35h1.6M391.51 425.25h1.6" stroke="#4264da" stroke-width="1.2"/>
<path d="M377.1 412.05L380.65 415.9L377.1 419.75L373.55 415.9Z" fill="none" stroke="#4264da" stroke-width="1.05"/>
<path d="M375.3 415.9h3.6M377.1 414.1v3.6" stroke="#4264da" stroke-width="0.75" opacity="0.95"/>
<circle cx="377.1" cy="415.9" r="1.5" fill="none" stroke="#4264da" stroke-width="0.5" opacity="0.45"/>
<path d="M376.3 412.95h1.6M376.3 418.85h1.6" stroke="#4264da" stroke-width="1.2"/>
<path d="M361.65 407.75L365.2 411.6L361.65 415.45L358.1 411.6Z" fill="none" stroke="#4264da" stroke-width="1.05"/>
<path d="M359.85 411.6h3.6M361.65 409.8v3.6" stroke="#4264da" stroke-width="0.75" opacity="0.95"/>
<circle cx="361.65" cy="411.6" r="1.5" fill="none" stroke="#4264da" stroke-width="0.5" opacity="0.45"/>
<path d="M360.85 408.65h1.6M360.85 414.55h1.6" stroke="#4264da" stroke-width="1.2"/>
<path d="M353.04 407.35L356.59 411.2L353.04 415.05L349.49 411.2Z" fill="none" stroke="#4264da" stroke-width="1.05"/>
<path d="M351.24 411.2h3.6M353.04 409.4v3.6" stroke="#4264da" stroke-width="0.75" opacity="0.95"/>
<circle cx="353.04" cy="411.2" r="1.5" fill="none" stroke="#4264da" stroke-width="0.5" opacity="0.45"/>
<path d="M352.24 408.25h1.6M352.24 414.15h1.6" stroke="#4264da" stroke-width="1.2"/>
<path d="M344.07 404.75L347.62 408.6L344.07 412.45L340.52 408.6Z" fill="none" stroke="#4264da" stroke-width="1.05"/>
<path d="M342.27 408.6h3.6M344.07 406.8v3.6" stroke="#4264da" stroke-width="0.75" opacity="0.95"/>
<circle cx="344.07" cy="408.6" r="1.5" fill="none" stroke="#4264da" stroke-width="0.5" opacity="0.45"/>
<path d="M343.27 405.65h1.6M343.27 411.55h1.6" stroke="#4264da" stroke-width="1.2"/>
<path d="M336.96 408.65L340.51 412.5L336.96 416.35L333.41 412.5Z" fill="none" stroke="#4264da" stroke-width="1.05"/>
<path d="M335.16 412.5h3.6M336.96 410.7v3.6" stroke="#4264da" stroke-width="0.75" opacity="0.95"/>
<circle cx="336.96" cy="412.5" r="1.5" fill="none" stroke="#4264da" stroke-width="0.5" opacity="0.45"/>
<path d="M336.16 409.55h1.6M336.16 415.45h1.6" stroke="#4264da" stroke-width="1.2"/>
<path d="M328.11 400.85L331.66 404.7L328.11 408.55L324.56 404.7Z" fill="none" stroke="#4264da" stroke-width="1.05"/>
<path d="M326.31 404.7h3.6M328.11 402.9v3.6" stroke="#4264da" stroke-width="0.75" opacity="0.95"/>
<circle cx="328.11" cy="404.7" r="1.5" fill="none" stroke="#4264da" stroke-width="0.5" opacity="0.45"/>
<path d="M327.31 401.75h1.6M327.31 407.65h1.6" stroke="#4264da" stroke-width="1.2"/>
<path d="M306.92 397.65L310.47 401.5L306.92 405.35L303.37 401.5Z" fill="none" stroke="#4264da" stroke-width="1.05"/>
<path d="M305.12 401.5h3.6M306.92 399.7v3.6" stroke="#4264da" stroke-width="0.75" opacity="0.95"/>
<circle cx="306.92" cy="401.5" r="1.5" fill="none" stroke="#4264da" stroke-width="0.5" opacity="0.45"/>
<path d="M306.12 398.55h1.6M306.12 404.45h1.6" stroke="#4264da" stroke-width="1.2"/>
<path d="M296.57 393.55L300.12 397.4L296.57 401.25L293.02 397.4Z" fill="none" stroke="#4264da" stroke-width="1.05"/>
<path d="M294.77 397.4h3.6M296.57 395.6v3.6" stroke="#4264da" stroke-width="0.75" opacity="0.95"/>
<circle cx="296.57" cy="397.4" r="1.5" fill="none" stroke="#4264da" stroke-width="0.5" opacity="0.45"/>
<path d="M295.77 394.45h1.6M295.77 400.35h1.6" stroke="#4264da" stroke-width="1.2"/>
<path d="M295.57 406.85L299.12 410.7L295.57 414.55L292.02 410.7Z" fill="none" stroke="#4264da" stroke-width="1.05"/>
<path d="M293.77 410.7h3.6M295.57 408.9v3.6" stroke="#4264da" stroke-width="0.75" opacity="0.95"/>
<circle cx="295.57" cy="410.7" r="1.5" fill="none" stroke="#4264da" stroke-width="0.5" opacity="0.45"/>
<path d="M294.77 407.75h1.6M294.77 413.65h1.6" stroke="#4264da" stroke-width="1.2"/>
<path d="M290.58 377.45L294.13 381.3L290.58 385.15L287.03 381.3Z" fill="none" stroke="#4264da" stroke-width="1.05"/>
<path d="M288.78 381.3h3.6M290.58 379.5v3.6" stroke="#4264da" stroke-width="0.75" opacity="0.95"/>
<circle cx="290.58" cy="381.3" r="1.5" fill="none" stroke="#4264da" stroke-width="0.5" opacity="0.45"/>
<path d="M289.78 378.35h1.6M289.78 384.25h1.6" stroke="#4264da" stroke-width="1.2"/>
<path d="M280.36 374.25L283.91 378.1L280.36 381.95L276.81 378.1Z" fill="none" stroke="#4264da" stroke-width="1.05"/>
<path d="M278.56 378.1h3.6M280.36 376.3v3.6" stroke="#4264da" stroke-width="0.75" opacity="0.95"/>
<circle cx="280.36" cy="378.1" r="1.5" fill="none" stroke="#4264da" stroke-width="0.5" opacity="0.45"/>
<path d="M279.56 375.15h1.6M279.56 381.05h1.6" stroke="#4264da" stroke-width="1.2"/>
<path d="M275 307.95L278.55 311.8L275 315.65L271.45 311.8Z" fill="none" stroke="#4264da" stroke-width="1.05"/>
<path d="M273.2 311.8h3.6M275 310v3.6" stroke="#4264da" stroke-width="0.75" opacity="0.95"/>
<circle cx="275" cy="311.8" r="1.5" fill="none" stroke="#4264da" stroke-width="0.5" opacity="0.45"/>
<path d="M274.2 308.85h1.6M274.2 314.75h1.6" stroke="#4264da" stroke-width="1.2"/>
<path d="M267.89 332.05L271.44 335.9L267.89 339.75L264.34 335.9Z" fill="none" stroke="#4264da" stroke-width="1.05"/>
<path d="M266.09 335.9h3.6M267.89 334.1v3.6" stroke="#4264da" stroke-width="0.75" opacity="0.95"/>
<circle cx="267.89" cy="335.9" r="1.5" fill="none" stroke="#4264da" stroke-width="0.5" opacity="0.45"/>
<path d="M267.09 332.95h1.6M267.09 338.85h1.6" stroke="#4264da" stroke-width="1.2"/>
<path d="M262.78 338.95L266.33 342.8L262.78 346.65L259.23 342.8Z" fill="none" stroke="#4264da" stroke-width="1.05"/>
<path d="M260.98 342.8h3.6M262.78 341v3.6" stroke="#4264da" stroke-width="0.75" opacity="0.95"/>
<circle cx="262.78" cy="342.8" r="1.5" fill="none" stroke="#4264da" stroke-width="0.5" opacity="0.45"/>
<path d="M261.98 339.85h1.6M261.98 345.75h1.6" stroke="#4264da" stroke-width="1.2"/>
<path d="M262.78 347.45L266.33 351.3L262.78 355.15L259.23 351.3Z" fill="none" stroke="#4264da" stroke-width="1.05"/>
<path d="M260.98 351.3h3.6M262.78 349.5v3.6" stroke="#4264da" stroke-width="0.75" opacity="0.95"/>
<circle cx="262.78" cy="351.3" r="1.5" fill="none" stroke="#4264da" stroke-width="0.5" opacity="0.45"/>
<path d="M261.98 348.35h1.6M261.98 354.25h1.6" stroke="#4264da" stroke-width="1.2"/>
</g>
<text x="216.5" y="262.7" font-size="8.8" fill="#5a5a5a" text-anchor="start" textLength="13" lengthAdjust="spacingAndGlyphs">(c)</text>
<text x="234.7" y="262.7" font-size="8.8" fill="#5a5a5a" text-anchor="start" textLength="12.1" lengthAdjust="spacingAndGlyphs">GX</text>
<text x="252.3" y="262.7" font-size="8.8" fill="#5a5a5a" text-anchor="start" textLength="24.8" lengthAdjust="spacingAndGlyphs">17+2</text>
<path d="M217.4 271.3L224.4 278.3M217.4 278.3L224.4 271.3" stroke="#9c3838" stroke-width="1.0" opacity="0.85"/>
<path d="M217.4 274.8L224.4 274.8M220.9 271.3L220.9 278.3" stroke="#9c3838" stroke-width="0.85" opacity="0.65"/>
<circle cx="220.9" cy="274.8" r="1.0" fill="#7a1515"/>
<text x="229.8" y="276.4" font-size="8.8" fill="#5a5a5a" text-anchor="start" textLength="5.9" lengthAdjust="spacingAndGlyphs">Q</text>
<text x="236.6" y="279.1" font-size="5" fill="#5a5a5a" text-anchor="start" textLength="2.4" lengthAdjust="spacingAndGlyphs">1</text>
<path d="M220.9 282.85L224.45 286.7L220.9 290.55L217.35 286.7Z" fill="none" stroke="#6487ee" stroke-width="1.05"/>
<text x="229.8" y="288.3" font-size="8.8" fill="#5a5a5a" text-anchor="start" textLength="5.9" lengthAdjust="spacingAndGlyphs">Q</text>
<text x="236.6" y="291" font-size="5" fill="#5a5a5a" text-anchor="start" textLength="2.6" lengthAdjust="spacingAndGlyphs">2</text>
<text x="201.9" y="449.1" font-size="12.4" fill="#787878" text-anchor="end" textLength="7.5" lengthAdjust="spacingAndGlyphs">0</text>
<text x="201.9" y="412.92" font-size="12.4" fill="#787878" text-anchor="end" textLength="7.5" lengthAdjust="spacingAndGlyphs">5</text>
<text x="201.9" y="372.34" font-size="12.4" fill="#787878" text-anchor="end" textLength="15" lengthAdjust="spacingAndGlyphs">10</text>
<text x="201.9" y="331.76" font-size="12.4" fill="#787878" text-anchor="end" textLength="15" lengthAdjust="spacingAndGlyphs">15</text>
<text x="201.9" y="291.18" font-size="12.4" fill="#787878" text-anchor="end" textLength="15" lengthAdjust="spacingAndGlyphs">20</text>
<text x="201.9" y="254" font-size="12.4" fill="#787878" text-anchor="end" textLength="15" lengthAdjust="spacingAndGlyphs">25</text>
<text x="205.7" y="466.8" font-size="12.4" fill="#787878" text-anchor="middle" textLength="15" lengthAdjust="spacingAndGlyphs">14</text>
<text x="249.8" y="466.8" font-size="12.4" fill="#787878" text-anchor="middle" textLength="15" lengthAdjust="spacingAndGlyphs">16</text>
<text x="293.9" y="466.8" font-size="12.4" fill="#787878" text-anchor="middle" textLength="15" lengthAdjust="spacingAndGlyphs">18</text>
<text x="338" y="466.8" font-size="12.4" fill="#787878" text-anchor="middle" textLength="15" lengthAdjust="spacingAndGlyphs">20</text>
<text x="382.1" y="466.8" font-size="12.4" fill="#787878" text-anchor="middle" textLength="15" lengthAdjust="spacingAndGlyphs">22</text>
<text x="426.2" y="466.8" font-size="12.4" fill="#787878" text-anchor="middle" textLength="15" lengthAdjust="spacingAndGlyphs">24</text>
<text x="470.3" y="466.8" font-size="12.4" fill="#787878" text-anchor="middle" textLength="15" lengthAdjust="spacingAndGlyphs">26</text>
<text x="302" y="480.7" font-size="11.8" fill="#787878" text-anchor="start" textLength="37.3" lengthAdjust="spacingAndGlyphs">Radius</text>
<text x="345.8" y="480.7" font-size="11.8" fill="#787878" text-anchor="start" textLength="27.9" lengthAdjust="spacingAndGlyphs">(km)</text>
<text transform="translate(176.8 388.6) rotate(-90)" font-size="11.8" fill="#787878" textLength="39.4" lengthAdjust="spacingAndGlyphs">Quality</text>
<text transform="translate(176.8 342.9) rotate(-90)" font-size="11.8" fill="#787878" textLength="36" lengthAdjust="spacingAndGlyphs">Factor</text>
</svg></body></html>
